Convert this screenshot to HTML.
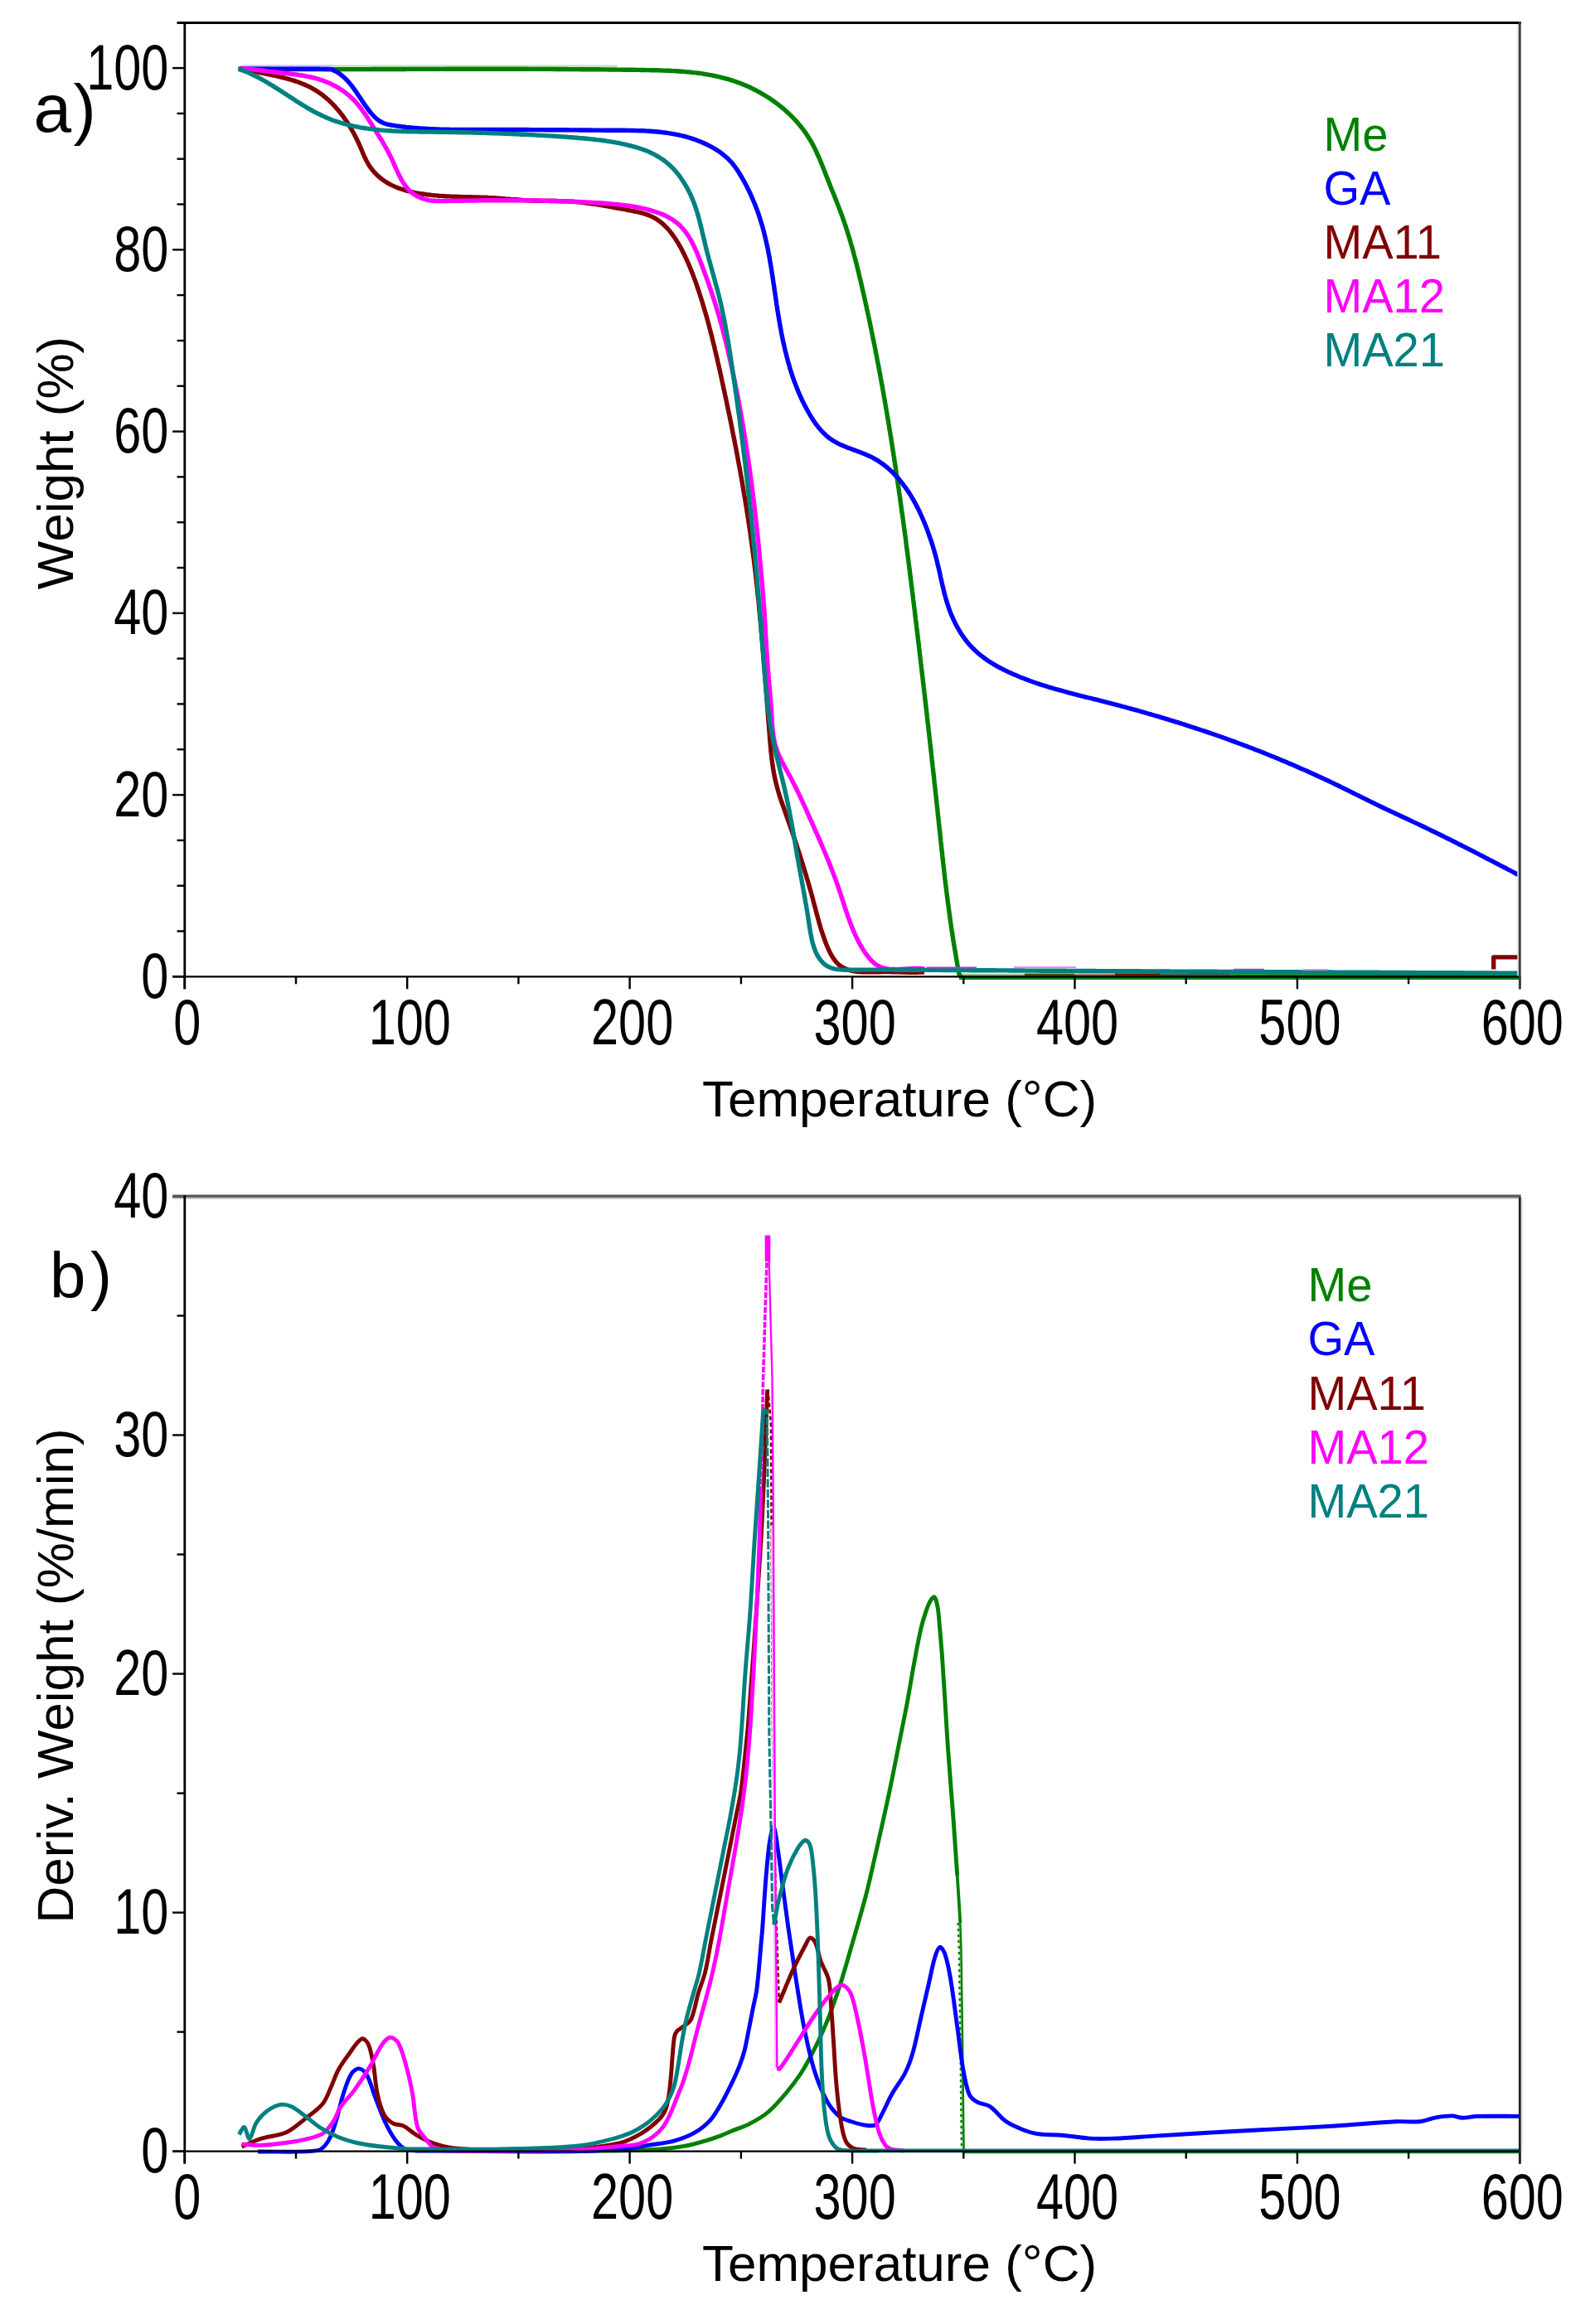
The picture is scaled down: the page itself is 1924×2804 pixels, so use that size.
<!DOCTYPE html>
<html lang="en"><head><meta charset="utf-8"><title>TGA / DTG curves</title>
<style>html,body{margin:0;padding:0;background:#fff}body{width:1924px;height:2804px;overflow:hidden}svg{display:block}text{font-family:"Liberation Sans",Arial,Helvetica,sans-serif;fill:#000}.c{fill:none;stroke-linejoin:round;stroke-linecap:butt}</style></head><body>
<svg width="1924" height="2804" viewBox="0 0 1924 2804">
<rect width="1924" height="2804" fill="#fff"/>
<!-- panel a -->
<clipPath id="clipa"><rect x="222.8" y="27.6" width="1611.0" height="1156.7"/></clipPath>
<g clip-path="url(#clipa)">
<path class="c" d="M292.0,79.6 L402.0,79.6" stroke="#c4c4ff" stroke-width="2.6" />
<path class="c" d="M402.0,79.6 L745.0,79.6" stroke="#c4e4c4" stroke-width="2.6" />
<path class="c" d="M1157.0,1178.6 L1834.0,1178.6" stroke="#008000" stroke-width="6.6" />
<path class="c" d="M287.6,83.4 L290.6,83.4 L293.6,83.4 L296.6,83.4 L299.6,83.5 L302.6,83.5 L305.6,83.5 L308.6,83.5 L311.6,83.5 L314.6,83.5 L317.6,83.5 L320.7,83.5 L323.7,83.5 L326.7,83.6 L329.7,83.6 L332.7,83.6 L335.7,83.6 L338.7,83.6 L341.7,83.6 L344.7,83.6 L347.7,83.6 L350.7,83.6 L353.7,83.6 L356.7,83.6 L359.7,83.6 L362.7,83.6 L365.7,83.6 L368.7,83.6 L371.7,83.6 L374.7,83.6 L377.7,83.6 L380.7,83.6 L383.7,83.6 L386.7,83.6 L389.7,83.6 L392.7,83.6 L395.7,83.6 L398.7,83.6 L401.7,83.6 L404.7,83.6 L407.7,83.6 L410.7,83.6 L413.7,83.6 L416.7,83.6 L419.7,83.6 L422.7,83.6 L425.7,83.6 L428.7,83.6 L431.7,83.6 L434.7,83.6 L437.7,83.6 L440.7,83.6 L443.7,83.6 L446.7,83.6 L449.7,83.5 L452.8,83.5 L455.8,83.5 L458.8,83.5 L461.8,83.5 L464.8,83.5 L467.8,83.5 L470.8,83.5 L473.8,83.5 L476.8,83.5 L479.8,83.5 L482.8,83.5 L485.8,83.5 L488.8,83.5 L491.8,83.4 L494.8,83.4 L497.8,83.4 L500.8,83.4 L503.8,83.4 L506.8,83.4 L509.8,83.4 L512.8,83.4 L515.8,83.4 L518.8,83.4 L521.8,83.4 L524.8,83.4 L527.8,83.4 L530.8,83.4 L533.8,83.4 L536.8,83.4 L539.8,83.3 L542.8,83.3 L545.8,83.3 L548.8,83.3 L551.8,83.3 L554.8,83.3 L557.8,83.3 L560.8,83.3 L563.8,83.3 L566.8,83.3 L569.8,83.3 L572.8,83.3 L575.8,83.3 L578.8,83.3 L581.8,83.3 L584.8,83.3 L587.8,83.3 L590.8,83.3 L593.8,83.3 L596.8,83.3 L599.8,83.3 L602.8,83.3 L605.8,83.3 L608.8,83.3 L611.8,83.3 L614.8,83.3 L617.8,83.3 L620.8,83.3 L623.8,83.3 L626.8,83.3 L629.8,83.3 L632.8,83.3 L635.8,83.3 L638.8,83.4 L641.8,83.4 L644.8,83.4 L647.8,83.4 L650.8,83.4 L653.8,83.4 L656.8,83.4 L659.9,83.4 L662.9,83.4 L665.9,83.4 L668.9,83.5 L671.9,83.5 L674.9,83.5 L677.9,83.5 L680.9,83.5 L683.9,83.5 L686.9,83.6 L689.9,83.6 L692.9,83.6 L695.9,83.6 L698.9,83.6 L701.9,83.7 L704.9,83.7 L707.9,83.7 L710.9,83.7 L713.9,83.8 L716.9,83.8 L719.9,83.8 L723.0,83.8 L726.0,83.9 L729.0,83.9 L732.0,83.9 L735.0,84.0 L738.0,84.0 L741.0,84.0 L744.0,84.1 L747.0,84.1 L750.0,84.1 L753.0,84.2 L756.0,84.2 L759.0,84.2 L762.0,84.3 L765.1,84.3 L768.1,84.4 L771.1,84.4 L774.1,84.5 L777.1,84.5 L780.1,84.6 L783.1,84.6 L786.1,84.7 L789.1,84.7 L792.1,84.8 L795.1,84.9 L798.1,85.0 L801.1,85.1 L804.1,85.2 L807.1,85.3 L810.1,85.5 L813.1,85.6 L816.1,85.8 L819.1,86.0 L822.0,86.2 L825.0,86.4 L828.0,86.7 L831.0,86.9 L833.9,87.2 L836.9,87.6 L839.8,87.9 L842.8,88.3 L845.7,88.7 L848.6,89.1 L851.5,89.6 L854.5,90.1 L857.4,90.6 L860.3,91.2 L863.2,91.8 L866.0,92.4 L868.9,93.1 L871.8,93.8 L874.6,94.6 L877.5,95.4 L880.3,96.2 L883.2,97.1 L886.0,98.0 L888.8,99.0 L891.6,100.0 L894.4,101.0 L897.2,102.2 L899.9,103.3 L902.7,104.5 L905.4,105.8 L908.1,107.1 L910.8,108.5 L913.5,109.9 L916.2,111.3 L918.8,112.8 L921.5,114.4 L924.1,116.0 L926.6,117.6 L929.2,119.3 L931.7,121.0 L934.2,122.8 L936.7,124.6 L939.1,126.4 L941.5,128.3 L943.8,130.2 L946.2,132.2 L948.5,134.2 L950.7,136.3 L952.9,138.4 L955.1,140.5 L957.2,142.7 L959.3,144.9 L961.3,147.1 L963.3,149.4 L965.2,151.7 L967.1,154.0 L968.9,156.4 L970.7,158.8 L972.4,161.3 L974.0,163.7 L975.6,166.2 L977.2,168.8 L978.7,171.3 L980.1,173.9 L981.5,176.6 L982.9,179.2 L984.2,181.9 L985.4,184.6 L986.6,187.3 L987.8,190.0 L989.0,192.7 L990.2,195.5 L991.3,198.2 L992.4,201.0 L993.5,203.8 L994.6,206.6 L995.7,209.4 L996.8,212.2 L997.9,215.0 L999.0,217.8 L1000.1,220.6 L1001.2,223.4 L1002.3,226.2 L1003.4,229.0 L1004.6,231.8 L1005.7,234.5 L1006.8,237.3 L1007.9,240.1 L1009.0,242.9 L1010.1,245.7 L1011.2,248.5 L1012.3,251.4 L1013.4,254.2 L1014.4,257.0 L1015.5,259.8 L1016.5,262.6 L1017.5,265.5 L1018.5,268.3 L1019.4,271.2 L1020.4,274.0 L1021.3,276.9 L1022.2,279.7 L1023.1,282.6 L1024.0,285.5 L1024.9,288.3 L1025.7,291.2 L1026.5,294.1 L1027.4,297.0 L1028.2,299.9 L1029.0,302.8 L1029.8,305.7 L1030.5,308.6 L1031.3,311.5 L1032.1,314.4 L1032.8,317.3 L1033.6,320.2 L1034.3,323.1 L1035.0,326.0 L1035.7,328.9 L1036.4,331.9 L1037.1,334.8 L1037.8,337.7 L1038.5,340.6 L1039.2,343.5 L1039.8,346.5 L1040.5,349.4 L1041.2,352.3 L1041.8,355.2 L1042.5,358.2 L1043.2,361.1 L1043.8,364.0 L1044.5,367.0 L1045.1,369.9 L1045.7,372.8 L1046.4,375.8 L1047.0,378.7 L1047.6,381.6 L1048.3,384.6 L1048.9,387.5 L1049.5,390.4 L1050.1,393.4 L1050.7,396.3 L1051.3,399.3 L1051.9,402.2 L1052.5,405.1 L1053.1,408.1 L1053.7,411.0 L1054.3,414.0 L1054.9,416.9 L1055.5,419.8 L1056.1,422.8 L1056.6,425.7 L1057.2,428.7 L1057.8,431.6 L1058.3,434.6 L1058.9,437.5 L1059.5,440.5 L1060.0,443.4 L1060.6,446.4 L1061.1,449.3 L1061.7,452.3 L1062.2,455.2 L1062.8,458.2 L1063.3,461.1 L1063.8,464.1 L1064.4,467.0 L1064.9,470.0 L1065.4,472.9 L1065.9,475.9 L1066.4,478.8 L1067.0,481.8 L1067.5,484.8 L1068.0,487.7 L1068.5,490.7 L1069.0,493.6 L1069.5,496.6 L1070.0,499.5 L1070.5,502.5 L1071.0,505.5 L1071.5,508.4 L1072.0,511.4 L1072.5,514.3 L1072.9,517.3 L1073.4,520.3 L1073.9,523.2 L1074.4,526.2 L1074.9,529.2 L1075.3,532.1 L1075.8,535.1 L1076.3,538.1 L1076.7,541.0 L1077.2,544.0 L1077.7,547.0 L1078.1,549.9 L1078.6,552.9 L1079.0,555.9 L1079.5,558.8 L1079.9,561.8 L1080.4,564.8 L1080.8,567.7 L1081.2,570.7 L1081.7,573.7 L1082.1,576.6 L1082.6,579.6 L1083.0,582.6 L1083.4,585.6 L1083.9,588.5 L1084.3,591.5 L1084.7,594.5 L1085.1,597.4 L1085.6,600.4 L1086.0,603.4 L1086.4,606.4 L1086.8,609.3 L1087.2,612.3 L1087.6,615.3 L1088.0,618.3 L1088.5,621.2 L1088.9,624.2 L1089.3,627.2 L1089.7,630.2 L1090.1,633.1 L1090.5,636.1 L1090.9,639.1 L1091.3,642.1 L1091.7,645.0 L1092.1,648.0 L1092.5,651.0 L1092.9,654.0 L1093.2,656.9 L1093.6,659.9 L1094.0,662.9 L1094.4,665.9 L1094.8,668.9 L1095.2,671.8 L1095.6,674.8 L1095.9,677.8 L1096.3,680.8 L1096.7,683.7 L1097.1,686.7 L1097.5,689.7 L1097.8,692.7 L1098.2,695.7 L1098.6,698.6 L1099.0,701.6 L1099.3,704.6 L1099.7,707.6 L1100.1,710.6 L1100.4,713.5 L1100.8,716.5 L1101.2,719.5 L1101.5,722.5 L1101.9,725.5 L1102.3,728.5 L1102.6,731.4 L1103.0,734.4 L1103.4,737.4 L1103.7,740.4 L1104.1,743.4 L1104.4,746.3 L1104.8,749.3 L1105.2,752.3 L1105.5,755.3 L1105.9,758.3 L1106.2,761.2 L1106.6,764.2 L1106.9,767.2 L1107.3,770.2 L1107.7,773.2 L1108.0,776.2 L1108.4,779.1 L1108.7,782.1 L1109.1,785.1 L1109.4,788.1 L1109.8,791.1 L1110.1,794.0 L1110.5,797.0 L1110.8,800.0 L1111.2,803.0 L1111.5,806.0 L1111.9,808.9 L1112.2,811.9 L1112.6,814.9 L1112.9,817.9 L1113.3,820.9 L1113.6,823.9 L1114.0,826.8 L1114.3,829.8 L1114.7,832.8 L1115.0,835.8 L1115.4,838.8 L1115.7,841.7 L1116.0,844.7 L1116.4,847.7 L1116.7,850.7 L1117.1,853.7 L1117.4,856.7 L1117.8,859.6 L1118.1,862.6 L1118.4,865.6 L1118.8,868.6 L1119.1,871.6 L1119.5,874.5 L1119.8,877.5 L1120.1,880.5 L1120.5,883.5 L1120.8,886.5 L1121.1,889.5 L1121.5,892.4 L1121.8,895.4 L1122.1,898.4 L1122.5,901.4 L1122.8,904.4 L1123.2,907.4 L1123.5,910.3 L1123.8,913.3 L1124.1,916.3 L1124.5,919.3 L1124.8,922.3 L1125.1,925.3 L1125.5,928.2 L1125.8,931.2 L1126.1,934.2 L1126.5,937.2 L1126.8,940.2 L1127.1,943.2 L1127.4,946.1 L1127.8,949.1 L1128.1,952.1 L1128.4,955.1 L1128.7,958.1 L1129.1,961.1 L1129.4,964.0 L1129.7,967.0 L1130.0,970.0 L1130.4,973.0 L1130.7,976.0 L1131.0,979.0 L1131.3,982.0 L1131.6,984.9 L1132.0,987.9 L1132.3,990.9 L1132.6,993.9 L1132.9,996.9 L1133.2,999.9 L1133.6,1002.9 L1133.9,1005.8 L1134.2,1008.8 L1134.5,1011.8 L1134.8,1014.8 L1135.2,1017.8 L1135.5,1020.8 L1135.8,1023.8 L1136.1,1026.7 L1136.5,1029.7 L1136.8,1032.7 L1137.1,1035.7 L1137.5,1038.7 L1137.8,1041.7 L1138.1,1044.7 L1138.5,1047.6 L1138.8,1050.6 L1139.1,1053.6 L1139.5,1056.6 L1139.8,1059.6 L1140.2,1062.6 L1140.5,1065.5 L1140.9,1068.5 L1141.3,1071.5 L1141.6,1074.5 L1142.0,1077.5 L1142.4,1080.4 L1142.7,1083.4 L1143.1,1086.4 L1143.5,1089.4 L1143.9,1092.3 L1144.3,1095.3 L1144.7,1098.3 L1145.1,1101.3 L1145.5,1104.2 L1145.9,1107.2 L1146.3,1110.2 L1146.7,1113.2 L1147.2,1116.1 L1147.6,1119.1 L1148.0,1122.1 L1148.5,1125.0 L1148.9,1128.0 L1149.4,1131.0 L1149.8,1133.9 L1150.3,1136.9 L1150.8,1139.9 L1151.3,1142.8 L1151.8,1145.8 L1152.3,1148.8 L1152.8,1151.7 L1153.3,1154.7 L1153.8,1157.6 L1154.3,1160.6 L1154.8,1163.5 L1155.4,1166.5 L1155.9,1169.4 L1156.5,1172.4 L1157.0,1175.4 L1157.6,1178.3" stroke="#008000" stroke-width="5.4" />
<path class="c" d="M287.6,83.1 L290.6,83.1 L293.6,83.1 L296.6,83.1 L299.7,83.1 L302.7,83.1 L305.7,83.1 L308.7,83.1 L311.7,83.1 L314.7,83.1 L317.8,83.1 L320.8,83.1 L323.8,83.1 L326.8,83.1 L329.8,83.1 L332.8,83.1 L335.9,83.1 L338.9,83.1 L341.9,83.1 L344.9,83.1 L347.9,83.1 L350.9,83.1 L354.0,83.1 L357.0,83.1 L360.0,83.1 L363.0,83.1 L366.0,83.1 L369.0,83.1 L372.1,83.2 L375.1,83.2 L378.1,83.2 L381.1,83.3 L384.1,83.3 L387.1,83.4 L390.2,83.4 L393.2,83.5 L396.2,83.5 L399.2,83.6 L402.0,84.7 L404.7,86.0 L407.2,87.4 L409.7,89.0 L412.0,90.8 L414.2,92.6 L416.3,94.6 L418.4,96.7 L420.4,98.8 L422.3,101.1 L424.2,103.4 L426.0,105.8 L427.8,108.3 L429.6,110.8 L431.3,113.4 L433.0,115.9 L434.8,118.5 L436.5,121.2 L438.3,123.8 L440.0,126.4 L441.9,129.0 L443.7,131.5 L445.6,134.0 L447.6,136.5 L449.7,138.8 L451.8,141.0 L454.0,143.1 L456.3,144.9 L458.7,146.5 L461.3,147.9 L463.9,149.0 L466.7,149.8 L469.5,150.4 L472.4,151.0 L475.3,151.4 L478.2,151.9 L481.2,152.3 L484.1,152.7 L487.0,153.0 L490.0,153.4 L492.9,153.7 L495.9,154.0 L498.8,154.3 L501.8,154.5 L504.7,154.8 L507.7,155.0 L510.7,155.2 L513.6,155.3 L516.6,155.5 L519.6,155.7 L522.6,155.8 L525.6,155.9 L528.6,156.0 L531.6,156.1 L534.6,156.2 L537.5,156.2 L540.5,156.3 L543.6,156.4 L546.6,156.4 L549.6,156.4 L552.6,156.4 L555.6,156.5 L558.6,156.5 L561.6,156.5 L564.6,156.5 L567.6,156.5 L570.6,156.5 L573.6,156.5 L576.7,156.5 L579.7,156.5 L582.7,156.5 L585.7,156.5 L588.7,156.4 L591.7,156.4 L594.7,156.4 L597.7,156.4 L600.7,156.4 L603.7,156.4 L606.7,156.4 L609.7,156.5 L612.7,156.5 L615.7,156.5 L618.7,156.5 L621.8,156.5 L624.8,156.5 L627.8,156.5 L630.8,156.5 L633.8,156.5 L636.8,156.5 L639.8,156.6 L642.8,156.6 L645.8,156.6 L648.8,156.6 L651.8,156.6 L654.8,156.6 L657.8,156.7 L660.8,156.7 L663.8,156.7 L666.7,156.7 L669.7,156.7 L672.7,156.8 L675.7,156.8 L678.7,156.8 L681.7,156.8 L684.7,156.8 L687.7,156.9 L690.7,156.9 L693.7,156.9 L696.7,156.9 L699.7,157.0 L702.7,157.0 L705.7,157.0 L708.8,157.0 L711.8,157.0 L714.8,157.1 L717.8,157.1 L720.8,157.1 L723.8,157.1 L726.8,157.1 L729.8,157.2 L732.8,157.2 L735.8,157.2 L738.8,157.2 L741.8,157.2 L744.8,157.3 L747.8,157.3 L750.8,157.3 L753.8,157.3 L756.9,157.4 L759.9,157.4 L762.9,157.5 L765.9,157.5 L768.9,157.6 L771.9,157.7 L774.9,157.8 L777.9,157.9 L780.9,158.1 L783.9,158.3 L786.8,158.5 L789.8,158.7 L792.8,159.0 L795.8,159.3 L798.7,159.6 L801.7,160.0 L804.7,160.4 L807.6,160.8 L810.5,161.3 L813.5,161.8 L816.4,162.4 L819.3,163.0 L822.2,163.7 L825.1,164.4 L828.0,165.2 L830.9,166.0 L833.8,166.9 L836.7,167.8 L839.5,168.8 L842.3,169.9 L845.2,171.0 L848.0,172.2 L850.8,173.5 L853.6,174.8 L856.4,176.3 L859.1,177.7 L861.8,179.3 L864.4,180.9 L867.0,182.6 L869.5,184.3 L871.9,186.2 L874.2,188.1 L876.5,190.0 L878.7,192.0 L880.7,194.1 L882.7,196.3 L884.5,198.5 L886.3,200.8 L888.0,203.2 L889.6,205.6 L891.2,208.0 L892.7,210.5 L894.2,213.0 L895.7,215.5 L897.1,218.1 L898.6,220.7 L900.0,223.4 L901.3,226.0 L902.7,228.7 L904.0,231.5 L905.3,234.2 L906.5,236.9 L907.7,239.7 L908.9,242.5 L910.1,245.3 L911.2,248.1 L912.3,250.9 L913.4,253.8 L914.4,256.6 L915.4,259.5 L916.3,262.3 L917.2,265.2 L918.1,268.1 L919.0,270.9 L919.8,273.8 L920.6,276.7 L921.4,279.6 L922.1,282.5 L922.8,285.4 L923.5,288.3 L924.2,291.2 L924.8,294.1 L925.5,297.0 L926.1,299.9 L926.7,302.9 L927.2,305.8 L927.8,308.7 L928.3,311.7 L928.8,314.6 L929.3,317.5 L929.8,320.5 L930.3,323.4 L930.8,326.4 L931.2,329.3 L931.7,332.3 L932.1,335.3 L932.6,338.2 L933.0,341.2 L933.5,344.1 L933.9,347.1 L934.3,350.1 L934.8,353.1 L935.2,356.0 L935.6,359.0 L936.1,362.0 L936.5,365.0 L936.9,367.9 L937.4,370.9 L937.8,373.9 L938.3,376.9 L938.8,379.9 L939.3,382.9 L939.8,385.8 L940.3,388.8 L940.8,391.8 L941.3,394.8 L941.9,397.8 L942.4,400.7 L943.0,403.7 L943.6,406.7 L944.2,409.6 L944.8,412.6 L945.5,415.5 L946.2,418.5 L946.8,421.4 L947.5,424.4 L948.3,427.3 L949.0,430.2 L949.8,433.1 L950.5,436.0 L951.4,438.9 L952.2,441.8 L953.0,444.7 L953.9,447.6 L954.8,450.4 L955.8,453.3 L956.7,456.1 L957.7,458.9 L958.8,461.7 L959.8,464.5 L960.9,467.3 L962.0,470.1 L963.1,472.9 L964.3,475.6 L965.5,478.3 L966.8,481.1 L968.0,483.8 L969.4,486.4 L970.7,489.1 L972.1,491.7 L973.5,494.4 L975.0,497.0 L976.5,499.6 L978.0,502.2 L979.6,504.7 L981.2,507.2 L982.9,509.7 L984.6,512.1 L986.4,514.5 L988.3,516.8 L990.2,519.0 L992.2,521.2 L994.3,523.3 L996.4,525.3 L998.6,527.2 L1000.9,529.0 L1003.3,530.6 L1005.8,532.2 L1008.4,533.7 L1011.0,535.1 L1013.7,536.4 L1016.5,537.6 L1019.3,538.8 L1022.1,539.9 L1025.0,541.0 L1027.9,542.1 L1030.8,543.1 L1033.7,544.2 L1036.6,545.3 L1039.5,546.4 L1042.4,547.5 L1045.2,548.7 L1048.0,549.9 L1050.7,551.2 L1053.4,552.6 L1056.1,554.1 L1058.6,555.6 L1061.1,557.3 L1063.6,559.0 L1066.0,560.7 L1068.4,562.6 L1070.7,564.4 L1072.9,566.4 L1075.1,568.4 L1077.2,570.5 L1079.3,572.6 L1081.4,574.8 L1083.4,577.0 L1085.3,579.3 L1087.2,581.6 L1089.0,583.9 L1090.8,586.3 L1092.6,588.7 L1094.3,591.2 L1095.9,593.6 L1097.6,596.2 L1099.1,598.7 L1100.7,601.3 L1102.2,603.9 L1103.6,606.5 L1105.0,609.1 L1106.4,611.8 L1107.8,614.5 L1109.1,617.2 L1110.3,619.9 L1111.6,622.6 L1112.8,625.4 L1114.0,628.2 L1115.2,630.9 L1116.3,633.7 L1117.4,636.5 L1118.5,639.3 L1119.5,642.2 L1120.5,645.0 L1121.5,647.8 L1122.5,650.7 L1123.5,653.5 L1124.4,656.4 L1125.3,659.3 L1126.1,662.2 L1127.0,665.0 L1127.8,667.9 L1128.6,670.8 L1129.4,673.7 L1130.1,676.6 L1130.8,679.6 L1131.5,682.5 L1132.2,685.4 L1132.9,688.3 L1133.6,691.2 L1134.2,694.2 L1134.8,697.1 L1135.5,700.0 L1136.1,702.9 L1136.8,705.8 L1137.5,708.7 L1138.2,711.7 L1138.9,714.6 L1139.6,717.5 L1140.4,720.3 L1141.2,723.2 L1142.1,726.1 L1143.0,729.0 L1143.9,731.8 L1144.9,734.7 L1145.9,737.5 L1147.0,740.3 L1148.2,743.1 L1149.4,745.9 L1150.6,748.6 L1152.0,751.3 L1153.3,754.0 L1154.8,756.7 L1156.3,759.3 L1157.8,761.9 L1159.4,764.5 L1161.1,767.0 L1162.8,769.4 L1164.6,771.8 L1166.4,774.2 L1168.3,776.5 L1170.3,778.7 L1172.3,780.9 L1174.4,783.0 L1176.5,785.1 L1178.7,787.1 L1181.0,789.0 L1183.3,790.9 L1185.6,792.7 L1188.0,794.5 L1190.5,796.2 L1193.0,797.9 L1195.5,799.5 L1198.0,801.1 L1200.6,802.6 L1203.2,804.1 L1205.9,805.5 L1208.6,806.9 L1211.3,808.3 L1214.0,809.6 L1216.7,810.9 L1219.5,812.1 L1222.2,813.4 L1225.0,814.6 L1227.8,815.7 L1230.5,816.9 L1233.3,818.0 L1236.1,819.1 L1239.0,820.1 L1241.8,821.2 L1244.6,822.2 L1247.4,823.2 L1250.3,824.2 L1253.1,825.1 L1255.9,826.1 L1258.8,827.0 L1261.7,827.9 L1264.5,828.8 L1267.4,829.6 L1270.3,830.5 L1273.1,831.3 L1276.0,832.1 L1278.9,832.9 L1281.8,833.7 L1284.7,834.5 L1287.6,835.3 L1290.5,836.1 L1293.4,836.8 L1296.3,837.6 L1299.2,838.3 L1302.1,839.1 L1305.0,839.8 L1307.9,840.6 L1310.8,841.3 L1313.7,842.0 L1316.6,842.7 L1319.5,843.5 L1322.5,844.2 L1325.4,844.9 L1328.3,845.7 L1331.2,846.4 L1334.1,847.1 L1337.0,847.9 L1339.9,848.6 L1342.8,849.4 L1345.7,850.1 L1348.6,850.9 L1351.5,851.7 L1354.4,852.5 L1357.3,853.2 L1360.2,854.0 L1363.1,854.8 L1366.0,855.6 L1368.9,856.4 L1371.8,857.2 L1374.7,858.0 L1377.6,858.8 L1380.5,859.7 L1383.4,860.5 L1386.2,861.3 L1389.1,862.2 L1392.0,863.0 L1394.9,863.9 L1397.8,864.7 L1400.7,865.6 L1403.5,866.4 L1406.4,867.3 L1409.3,868.2 L1412.2,869.1 L1415.0,869.9 L1417.9,870.8 L1420.8,871.7 L1423.6,872.6 L1426.5,873.5 L1429.3,874.4 L1432.2,875.4 L1435.1,876.3 L1437.9,877.2 L1440.8,878.1 L1443.6,879.1 L1446.5,880.0 L1449.3,881.0 L1452.2,881.9 L1455.0,882.9 L1457.9,883.9 L1460.7,884.8 L1463.5,885.8 L1466.4,886.8 L1469.2,887.8 L1472.1,888.8 L1474.9,889.8 L1477.7,890.8 L1480.5,891.8 L1483.4,892.8 L1486.2,893.9 L1489.0,894.9 L1491.8,895.9 L1494.6,897.0 L1497.5,898.0 L1500.3,899.1 L1503.1,900.1 L1505.9,901.2 L1508.7,902.3 L1511.5,903.3 L1514.3,904.4 L1517.1,905.5 L1519.9,906.6 L1522.7,907.7 L1525.5,908.8 L1528.3,909.9 L1531.0,911.1 L1533.8,912.2 L1536.6,913.3 L1539.4,914.5 L1542.2,915.6 L1544.9,916.7 L1547.7,917.9 L1550.5,919.1 L1553.2,920.2 L1556.0,921.4 L1558.8,922.6 L1561.5,923.8 L1564.3,925.0 L1567.0,926.2 L1569.8,927.4 L1572.5,928.6 L1575.3,929.8 L1578.0,931.0 L1580.7,932.2 L1583.5,933.5 L1586.2,934.7 L1588.9,936.0 L1591.7,937.2 L1594.4,938.5 L1597.1,939.8 L1599.8,941.0 L1602.5,942.3 L1605.3,943.6 L1608.0,944.9 L1610.7,946.2 L1613.4,947.5 L1616.1,948.8 L1618.8,950.1 L1621.5,951.5 L1624.2,952.8 L1626.9,954.1 L1629.6,955.4 L1632.2,956.8 L1634.9,958.1 L1637.6,959.4 L1640.3,960.8 L1643.0,962.1 L1645.7,963.4 L1648.4,964.8 L1651.1,966.1 L1653.8,967.4 L1656.5,968.7 L1659.2,970.1 L1661.9,971.4 L1664.6,972.7 L1667.3,974.0 L1670.0,975.3 L1672.7,976.6 L1675.4,977.8 L1678.1,979.1 L1680.9,980.4 L1683.6,981.7 L1686.3,982.9 L1689.0,984.2 L1691.7,985.5 L1694.5,986.8 L1697.2,988.0 L1699.9,989.3 L1702.6,990.6 L1705.3,991.9 L1708.0,993.1 L1710.8,994.4 L1713.5,995.7 L1716.2,997.0 L1718.9,998.3 L1721.6,999.6 L1724.3,1000.9 L1727.0,1002.2 L1729.7,1003.5 L1732.4,1004.8 L1735.1,1006.1 L1737.8,1007.5 L1740.5,1008.8 L1743.2,1010.1 L1745.9,1011.5 L1748.6,1012.8 L1751.3,1014.1 L1753.9,1015.5 L1756.6,1016.8 L1759.3,1018.2 L1762.0,1019.5 L1764.7,1020.9 L1767.4,1022.2 L1770.0,1023.6 L1772.7,1025.0 L1775.4,1026.3 L1778.1,1027.7 L1780.7,1029.1 L1783.4,1030.4 L1786.1,1031.8 L1788.7,1033.2 L1791.4,1034.6 L1794.1,1036.0 L1796.7,1037.3 L1799.4,1038.7 L1802.1,1040.1 L1804.7,1041.5 L1807.4,1042.9 L1810.1,1044.3 L1812.7,1045.7 L1815.4,1047.0 L1818.0,1048.4 L1820.7,1049.8 L1823.4,1051.2 L1826.0,1052.6 L1828.7,1054.0 L1831.3,1055.4 L1834.0,1056.8" stroke="#0000ff" stroke-width="5.4" />
<path class="c" d="M1801.7,1169.5 L1801.7,1154.9 L1834.0,1154.9" stroke="#800000" stroke-width="5.4" stroke-linejoin="miter"/>
<path class="c" d="M290.0,82.2 L292.8,82.9 L295.6,83.6 L298.4,84.3 L301.3,85.0 L304.2,85.6 L307.1,86.3 L310.1,86.9 L313.0,87.5 L316.0,88.1 L319.0,88.7 L322.0,89.3 L325.0,89.9 L328.0,90.6 L331.0,91.2 L334.0,91.9 L337.0,92.6 L340.0,93.3 L343.0,94.0 L345.9,94.8 L348.9,95.6 L351.8,96.5 L354.7,97.4 L357.6,98.3 L360.4,99.3 L363.2,100.4 L366.0,101.5 L368.7,102.7 L371.4,103.9 L374.1,105.2 L376.7,106.6 L379.3,108.1 L381.8,109.6 L384.2,111.2 L386.7,112.9 L389.0,114.7 L391.3,116.5 L393.6,118.4 L395.8,120.3 L398.0,122.3 L400.1,124.4 L402.2,126.5 L404.3,128.7 L406.2,130.9 L408.2,133.2 L410.1,135.5 L411.9,137.9 L413.8,140.3 L415.5,142.7 L417.2,145.2 L418.9,147.8 L420.6,150.3 L422.1,152.9 L423.7,155.5 L425.2,158.2 L426.7,160.8 L428.1,163.5 L429.5,166.2 L430.8,169.0 L432.1,171.7 L433.4,174.5 L434.6,177.2 L435.8,180.0 L436.9,182.8 L438.1,185.6 L439.3,188.3 L440.6,191.0 L441.9,193.7 L443.3,196.3 L444.7,198.8 L446.4,201.3 L448.1,203.7 L449.9,206.0 L451.9,208.2 L454.0,210.3 L456.1,212.4 L458.4,214.3 L460.7,216.2 L463.2,217.9 L465.6,219.6 L468.2,221.1 L470.8,222.6 L473.5,223.9 L476.2,225.1 L479.0,226.3 L481.9,227.4 L484.7,228.3 L487.6,229.2 L490.5,230.1 L493.5,230.8 L496.4,231.5 L499.4,232.2 L502.4,232.8 L505.4,233.3 L508.4,233.8 L511.4,234.2 L514.4,234.7 L517.4,235.0 L520.4,235.4 L523.3,235.7 L526.3,235.9 L529.3,236.2 L532.3,236.4 L535.3,236.6 L538.3,236.8 L541.3,236.9 L544.3,237.1 L547.3,237.2 L550.3,237.3 L553.3,237.4 L556.3,237.5 L559.3,237.6 L562.3,237.6 L565.3,237.7 L568.3,237.8 L571.3,237.9 L574.3,237.9 L577.2,238.0 L580.2,238.1 L583.2,238.2 L586.2,238.3 L589.2,238.5 L592.2,238.6 L595.2,238.8 L598.2,239.0 L601.2,239.2 L604.2,239.4 L607.2,239.6 L610.2,239.9 L613.2,240.1 L616.2,240.4 L619.1,240.6 L622.1,240.8 L625.1,241.0 L628.1,241.3 L631.1,241.5 L634.1,241.6 L637.1,241.8 L640.1,242.0 L643.2,242.1 L646.2,242.2 L649.2,242.2 L652.2,242.3 L655.2,242.4 L658.2,242.4 L661.2,242.4 L664.2,242.5 L667.2,242.5 L670.3,242.5 L673.3,242.6 L676.3,242.7 L679.3,242.8 L682.2,242.9 L685.2,243.0 L688.2,243.2 L691.2,243.3 L694.2,243.6 L697.1,243.8 L700.1,244.1 L703.0,244.4 L706.0,244.8 L709.0,245.2 L711.9,245.6 L714.9,246.0 L717.8,246.4 L720.8,246.9 L723.7,247.4 L726.7,247.8 L729.6,248.4 L732.6,248.9 L735.6,249.4 L738.5,249.9 L741.5,250.5 L744.5,251.0 L747.5,251.6 L750.5,252.2 L753.5,252.7 L756.6,253.3 L759.6,253.8 L762.6,254.4 L765.7,255.0 L768.7,255.7 L771.6,256.4 L774.6,257.1 L777.5,258.0 L780.3,258.9 L783.1,259.9 L785.8,261.1 L788.4,262.4 L790.9,263.8 L793.4,265.4 L795.7,267.1 L798.0,268.9 L800.2,270.8 L802.3,272.8 L804.4,274.9 L806.3,277.0 L808.3,279.3 L810.1,281.6 L811.9,284.1 L813.6,286.5 L815.3,289.0 L816.9,291.6 L818.5,294.2 L820.0,296.9 L821.5,299.5 L822.9,302.2 L824.3,304.9 L825.6,307.6 L826.9,310.4 L828.2,313.1 L829.5,315.9 L830.7,318.6 L831.8,321.4 L833.0,324.2 L834.1,327.0 L835.2,329.8 L836.3,332.6 L837.3,335.4 L838.4,338.2 L839.4,341.1 L840.4,343.9 L841.3,346.7 L842.3,349.6 L843.3,352.4 L844.2,355.3 L845.1,358.1 L846.0,361.0 L846.9,363.8 L847.8,366.7 L848.6,369.6 L849.5,372.5 L850.3,375.3 L851.2,378.2 L852.0,381.1 L852.8,384.0 L853.6,386.9 L854.4,389.8 L855.2,392.7 L855.9,395.6 L856.7,398.5 L857.4,401.4 L858.2,404.3 L858.9,407.2 L859.6,410.1 L860.3,413.0 L861.1,415.9 L861.8,418.8 L862.4,421.8 L863.1,424.7 L863.8,427.6 L864.5,430.5 L865.2,433.4 L865.8,436.4 L866.5,439.3 L867.2,442.2 L867.8,445.2 L868.5,448.1 L869.1,451.0 L869.8,454.0 L870.4,456.9 L871.0,459.8 L871.7,462.8 L872.3,465.7 L872.9,468.6 L873.6,471.6 L874.2,474.5 L874.8,477.4 L875.5,480.4 L876.1,483.3 L876.7,486.3 L877.3,489.2 L877.9,492.1 L878.5,495.1 L879.2,498.0 L879.8,501.0 L880.4,503.9 L881.0,506.9 L881.6,509.8 L882.2,512.8 L882.8,515.7 L883.3,518.6 L883.9,521.6 L884.5,524.5 L885.1,527.5 L885.7,530.4 L886.3,533.4 L886.8,536.3 L887.4,539.3 L888.0,542.2 L888.5,545.2 L889.1,548.1 L889.6,551.1 L890.2,554.1 L890.7,557.0 L891.3,560.0 L891.8,562.9 L892.4,565.9 L892.9,568.8 L893.4,571.8 L894.0,574.7 L894.5,577.7 L895.0,580.7 L895.5,583.6 L896.0,586.6 L896.5,589.5 L897.0,592.5 L897.5,595.5 L898.0,598.4 L898.5,601.4 L899.0,604.4 L899.5,607.3 L900.0,610.3 L900.5,613.3 L900.9,616.2 L901.4,619.2 L901.9,622.2 L902.3,625.1 L902.8,628.1 L903.2,631.1 L903.7,634.0 L904.1,637.0 L904.5,640.0 L905.0,643.0 L905.4,645.9 L905.8,648.9 L906.2,651.9 L906.6,654.9 L907.0,657.8 L907.4,660.8 L907.8,663.8 L908.2,666.8 L908.6,669.7 L909.0,672.7 L909.4,675.7 L909.7,678.7 L910.1,681.7 L910.5,684.6 L910.8,687.6 L911.2,690.6 L911.5,693.6 L911.9,696.6 L912.2,699.6 L912.5,702.5 L912.9,705.5 L913.2,708.5 L913.5,711.5 L913.8,714.5 L914.1,717.5 L914.4,720.5 L914.8,723.4 L915.1,726.4 L915.4,729.4 L915.6,732.4 L915.9,735.4 L916.2,738.4 L916.5,741.4 L916.8,744.4 L917.1,747.4 L917.4,750.4 L917.6,753.3 L917.9,756.3 L918.2,759.3 L918.4,762.3 L918.7,765.3 L919.0,768.3 L919.2,771.3 L919.5,774.3 L919.7,777.3 L920.0,780.3 L920.2,783.3 L920.5,786.3 L920.7,789.3 L921.0,792.3 L921.2,795.3 L921.4,798.3 L921.7,801.3 L921.9,804.2 L922.2,807.2 L922.4,810.2 L922.6,813.2 L922.9,816.2 L923.1,819.2 L923.3,822.2 L923.6,825.2 L923.8,828.2 L924.0,831.2 L924.2,834.2 L924.5,837.2 L924.7,840.2 L924.9,843.2 L925.2,846.2 L925.4,849.2 L925.6,852.2 L925.9,855.2 L926.1,858.2 L926.3,861.2 L926.5,864.2 L926.8,867.2 L927.0,870.2 L927.2,873.1 L927.5,876.1 L927.7,879.1 L927.9,882.1 L928.2,885.1 L928.4,888.1 L928.6,891.1 L928.9,894.1 L929.1,897.1 L929.4,900.1 L929.7,903.1 L929.9,906.1 L930.2,909.0 L930.6,912.0 L930.9,915.0 L931.3,918.0 L931.6,920.9 L932.1,923.9 L932.5,926.8 L933.0,929.8 L933.5,932.7 L934.1,935.7 L934.6,938.6 L935.3,941.5 L936.0,944.4 L936.7,947.3 L937.5,950.2 L938.3,953.1 L939.1,956.0 L940.0,958.9 L940.9,961.7 L941.8,964.6 L942.8,967.5 L943.8,970.3 L944.8,973.2 L945.8,976.0 L946.8,978.9 L947.8,981.7 L948.8,984.6 L949.8,987.4 L950.8,990.2 L951.8,993.1 L952.8,995.9 L953.8,998.8 L954.8,1001.6 L955.8,1004.5 L956.8,1007.3 L957.7,1010.1 L958.7,1013.0 L959.6,1015.8 L960.6,1018.7 L961.5,1021.5 L962.4,1024.4 L963.4,1027.2 L964.3,1030.1 L965.2,1032.9 L966.1,1035.8 L967.0,1038.6 L967.9,1041.5 L968.8,1044.4 L969.7,1047.2 L970.5,1050.1 L971.4,1053.0 L972.3,1055.8 L973.1,1058.7 L974.0,1061.6 L974.8,1064.5 L975.6,1067.4 L976.5,1070.2 L977.3,1073.1 L978.1,1076.0 L978.9,1078.9 L979.7,1081.8 L980.5,1084.7 L981.2,1087.7 L982.0,1090.6 L982.8,1093.5 L983.6,1096.4 L984.3,1099.3 L985.1,1102.3 L985.9,1105.2 L986.7,1108.1 L987.5,1111.0 L988.3,1113.9 L989.2,1116.9 L990.0,1119.8 L990.9,1122.7 L991.9,1125.6 L992.8,1128.4 L993.8,1131.3 L994.9,1134.2 L995.9,1137.0 L997.0,1139.9 L998.2,1142.7 L999.4,1145.5 L1000.7,1148.2 L1002.1,1150.9 L1003.5,1153.5 L1005.1,1156.0 L1006.8,1158.4 L1008.5,1160.6 L1010.5,1162.6 L1012.5,1164.5 L1014.7,1166.1 L1017.1,1167.5 L1019.6,1168.7 L1022.2,1169.8 L1025.0,1170.6 L1027.8,1171.3 L1030.7,1171.8 L1033.6,1172.3 L1036.6,1172.6 L1039.6,1172.8 L1042.6,1172.9 L1045.6,1172.9 L1048.7,1172.9 L1051.8,1172.9 L1054.9,1172.8 L1058.0,1172.7 L1061.0,1172.7 L1064.1,1172.6 L1067.1,1172.6 L1070.1,1172.6 L1073.1,1172.6 L1076.1,1172.7 L1079.0,1172.7 L1082.0,1172.8 L1084.9,1172.9 L1087.9,1173.0 L1090.8,1173.1 L1093.8,1173.1 L1096.8,1173.2 L1099.8,1173.2 L1102.8,1173.2 L1105.8,1173.2 L1108.8,1173.1 L1111.9,1173.0 L1115.0,1172.8" stroke="#800000" stroke-width="5.4" />
<path class="c" d="M291.0,82.6 L294.0,82.8 L297.0,83.1 L300.0,83.3 L303.0,83.6 L306.0,83.9 L309.0,84.3 L311.9,84.6 L314.9,85.0 L317.9,85.3 L320.9,85.7 L323.8,86.1 L326.8,86.4 L329.8,86.8 L332.7,87.1 L335.7,87.5 L338.7,87.8 L341.7,88.1 L344.7,88.5 L347.7,88.8 L350.7,89.2 L353.7,89.5 L356.7,89.9 L359.7,90.3 L362.7,90.8 L365.7,91.2 L368.7,91.8 L371.6,92.3 L374.6,93.0 L377.5,93.6 L380.4,94.4 L383.3,95.2 L386.1,96.1 L389.0,97.0 L391.8,98.1 L394.6,99.2 L397.3,100.4 L400.0,101.6 L402.7,103.0 L405.3,104.4 L407.9,105.9 L410.4,107.4 L412.9,109.1 L415.4,110.8 L417.7,112.6 L420.1,114.5 L422.3,116.4 L424.5,118.4 L426.7,120.5 L428.7,122.7 L430.7,125.0 L432.6,127.3 L434.5,129.7 L436.4,132.1 L438.1,134.5 L439.9,137.0 L441.6,139.6 L443.3,142.1 L444.9,144.7 L446.5,147.2 L448.2,149.8 L449.7,152.4 L451.3,154.9 L452.9,157.5 L454.5,160.0 L456.1,162.5 L457.6,165.0 L459.2,167.5 L460.7,170.0 L462.2,172.5 L463.7,175.1 L465.2,177.6 L466.6,180.2 L468.0,182.8 L469.4,185.5 L470.8,188.2 L472.1,190.9 L473.4,193.7 L474.7,196.6 L475.9,199.4 L477.2,202.3 L478.5,205.1 L479.8,208.0 L481.1,210.8 L482.5,213.5 L483.9,216.2 L485.4,218.9 L487.0,221.4 L488.7,223.8 L490.5,226.2 L492.4,228.4 L494.4,230.4 L496.5,232.3 L498.8,234.0 L501.2,235.6 L503.8,237.0 L506.4,238.2 L509.1,239.3 L511.9,240.2 L514.7,241.0 L517.7,241.6 L520.6,242.0 L523.6,242.3 L526.6,242.5 L529.6,242.5 L532.7,242.6 L535.7,242.5 L538.8,242.5 L541.8,242.4 L544.9,242.4 L547.9,242.3 L550.9,242.3 L554.0,242.2 L557.0,242.2 L560.0,242.1 L563.0,242.1 L566.0,242.1 L569.0,242.0 L572.0,242.0 L575.0,241.9 L578.0,241.9 L581.0,241.9 L584.0,241.8 L587.0,241.8 L590.0,241.8 L593.0,241.8 L596.0,241.8 L599.0,241.7 L602.0,241.7 L605.0,241.7 L608.0,241.7 L611.0,241.7 L614.0,241.7 L617.0,241.7 L620.0,241.7 L623.0,241.7 L626.1,241.7 L629.1,241.8 L632.1,241.8 L635.1,241.8 L638.1,241.8 L641.1,241.9 L644.1,241.9 L647.1,242.0 L650.1,242.0 L653.1,242.1 L656.1,242.1 L659.1,242.2 L662.1,242.2 L665.1,242.3 L668.1,242.4 L671.1,242.5 L674.1,242.6 L677.1,242.7 L680.2,242.8 L683.2,242.9 L686.2,243.0 L689.2,243.1 L692.2,243.2 L695.2,243.4 L698.2,243.5 L701.2,243.6 L704.2,243.8 L707.2,243.9 L710.2,244.1 L713.2,244.3 L716.2,244.4 L719.2,244.6 L722.2,244.8 L725.2,245.0 L728.2,245.2 L731.2,245.4 L734.2,245.7 L737.1,245.9 L740.1,246.2 L743.1,246.4 L746.1,246.7 L749.1,247.1 L752.1,247.4 L755.0,247.8 L758.0,248.2 L761.0,248.6 L763.9,249.1 L766.9,249.6 L769.8,250.2 L772.8,250.8 L775.7,251.5 L778.7,252.2 L781.6,252.9 L784.5,253.7 L787.4,254.6 L790.3,255.5 L793.2,256.5 L796.1,257.5 L798.9,258.6 L801.7,259.8 L804.4,261.1 L807.0,262.5 L809.6,264.0 L812.1,265.6 L814.5,267.3 L816.8,269.1 L819.0,271.0 L821.1,273.0 L823.1,275.2 L825.0,277.4 L826.8,279.7 L828.5,282.1 L830.2,284.6 L831.8,287.1 L833.3,289.7 L834.7,292.4 L836.1,295.1 L837.4,297.8 L838.7,300.6 L840.0,303.4 L841.2,306.3 L842.3,309.2 L843.5,312.0 L844.6,314.9 L845.7,317.8 L846.8,320.6 L847.9,323.5 L848.9,326.3 L850.0,329.1 L851.0,331.9 L852.0,334.7 L853.0,337.5 L854.0,340.3 L855.0,343.1 L856.0,345.9 L857.0,348.8 L857.9,351.6 L858.9,354.4 L859.8,357.2 L860.7,360.1 L861.6,362.9 L862.5,365.7 L863.4,368.6 L864.3,371.4 L865.1,374.3 L866.0,377.2 L866.8,380.0 L867.6,382.9 L868.5,385.8 L869.3,388.7 L870.1,391.6 L870.8,394.5 L871.6,397.4 L872.4,400.3 L873.1,403.2 L873.9,406.1 L874.6,409.0 L875.4,411.9 L876.1,414.8 L876.8,417.8 L877.5,420.7 L878.2,423.6 L878.9,426.6 L879.6,429.5 L880.2,432.4 L880.9,435.4 L881.6,438.3 L882.2,441.2 L882.9,444.2 L883.5,447.1 L884.1,450.1 L884.8,453.0 L885.4,455.9 L886.0,458.9 L886.6,461.8 L887.2,464.8 L887.8,467.7 L888.4,470.7 L889.0,473.6 L889.5,476.6 L890.1,479.5 L890.7,482.5 L891.2,485.4 L891.8,488.4 L892.3,491.3 L892.8,494.3 L893.4,497.3 L893.9,500.2 L894.4,503.2 L894.9,506.1 L895.5,509.1 L896.0,512.1 L896.5,515.0 L897.0,518.0 L897.4,520.9 L897.9,523.9 L898.4,526.9 L898.9,529.8 L899.3,532.8 L899.8,535.8 L900.3,538.8 L900.7,541.7 L901.2,544.7 L901.6,547.7 L902.0,550.6 L902.5,553.6 L902.9,556.6 L903.3,559.6 L903.8,562.5 L904.2,565.5 L904.6,568.5 L905.0,571.5 L905.4,574.4 L905.8,577.4 L906.2,580.4 L906.6,583.4 L906.9,586.4 L907.3,589.3 L907.7,592.3 L908.1,595.3 L908.4,598.3 L908.8,601.3 L909.2,604.2 L909.5,607.2 L909.9,610.2 L910.2,613.2 L910.6,616.2 L910.9,619.2 L911.3,622.1 L911.6,625.1 L911.9,628.1 L912.3,631.1 L912.6,634.1 L912.9,637.1 L913.2,640.1 L913.5,643.0 L913.9,646.0 L914.2,649.0 L914.5,652.0 L914.8,655.0 L915.1,658.0 L915.4,661.0 L915.7,664.0 L916.0,667.0 L916.3,669.9 L916.5,672.9 L916.8,675.9 L917.1,678.9 L917.4,681.9 L917.7,684.9 L917.9,687.9 L918.2,690.9 L918.5,693.9 L918.7,696.9 L919.0,699.9 L919.3,702.9 L919.5,705.8 L919.8,708.8 L920.0,711.8 L920.2,714.8 L920.5,717.8 L920.7,720.8 L920.9,723.8 L921.1,726.8 L921.4,729.8 L921.6,732.8 L921.8,735.8 L922.0,738.8 L922.2,741.8 L922.4,744.8 L922.5,747.8 L922.7,750.8 L922.9,753.8 L923.1,756.8 L923.2,759.8 L923.4,762.8 L923.6,765.8 L923.8,768.8 L924.0,771.8 L924.1,774.8 L924.3,777.8 L924.5,780.8 L924.7,783.8 L924.9,786.8 L925.1,789.8 L925.3,792.8 L925.5,795.8 L925.7,798.8 L926.0,801.8 L926.2,804.8 L926.4,807.8 L926.7,810.8 L926.9,813.8 L927.2,816.7 L927.4,819.7 L927.7,822.7 L927.9,825.7 L928.2,828.7 L928.5,831.7 L928.7,834.7 L928.9,837.7 L929.2,840.7 L929.4,843.7 L929.7,846.7 L929.9,849.7 L930.1,852.7 L930.3,855.7 L930.5,858.7 L930.7,861.7 L930.9,864.7 L931.1,867.7 L931.3,870.8 L931.5,873.8 L931.7,876.8 L932.0,879.8 L932.3,882.7 L932.7,885.7 L933.1,888.7 L933.6,891.6 L934.2,894.5 L934.8,897.4 L935.6,900.2 L936.5,903.0 L937.4,905.8 L938.5,908.6 L939.7,911.3 L940.9,914.0 L942.2,916.7 L943.5,919.4 L944.9,922.1 L946.3,924.7 L947.8,927.4 L949.2,930.0 L950.7,932.7 L952.2,935.4 L953.6,938.0 L955.0,940.7 L956.4,943.4 L957.8,946.1 L959.2,948.8 L960.5,951.5 L961.8,954.2 L963.1,956.9 L964.4,959.6 L965.7,962.3 L967.0,965.1 L968.2,967.8 L969.5,970.5 L970.7,973.3 L971.9,976.0 L973.2,978.7 L974.4,981.5 L975.6,984.2 L976.8,987.0 L978.1,989.7 L979.3,992.4 L980.5,995.1 L981.7,997.9 L982.9,1000.6 L984.1,1003.3 L985.4,1006.1 L986.6,1008.8 L987.8,1011.6 L989.0,1014.3 L990.1,1017.0 L991.3,1019.8 L992.5,1022.5 L993.7,1025.3 L994.8,1028.0 L996.0,1030.8 L997.1,1033.6 L998.3,1036.3 L999.4,1039.1 L1000.5,1041.9 L1001.6,1044.7 L1002.7,1047.5 L1003.8,1050.3 L1004.9,1053.1 L1005.9,1055.9 L1007.0,1058.7 L1008.0,1061.5 L1009.1,1064.4 L1010.1,1067.2 L1011.1,1070.1 L1012.0,1073.0 L1013.0,1075.8 L1014.0,1078.7 L1014.9,1081.6 L1015.9,1084.5 L1016.8,1087.4 L1017.7,1090.3 L1018.7,1093.2 L1019.6,1096.1 L1020.6,1099.0 L1021.6,1101.8 L1022.5,1104.7 L1023.5,1107.6 L1024.6,1110.4 L1025.6,1113.3 L1026.7,1116.1 L1027.8,1118.9 L1028.9,1121.6 L1030.1,1124.4 L1031.3,1127.1 L1032.5,1129.8 L1033.8,1132.5 L1035.1,1135.2 L1036.5,1137.8 L1037.9,1140.4 L1039.4,1142.9 L1040.9,1145.4 L1042.5,1147.9 L1044.2,1150.4 L1045.9,1152.7 L1047.7,1155.1 L1049.6,1157.3 L1051.6,1159.4 L1053.7,1161.4 L1055.9,1163.2 L1058.3,1164.8 L1060.8,1166.1 L1063.4,1167.2 L1066.2,1168.1 L1069.1,1168.7 L1072.0,1169.2 L1075.1,1169.4 L1078.3,1169.5 L1081.4,1169.6 L1084.6,1169.5 L1087.8,1169.3 L1091.0,1169.1 L1094.2,1168.9 L1097.3,1168.7 L1100.4,1168.6 L1103.4,1168.5 L1106.4,1168.4 L1109.4,1168.5 L1112.2,1168.7 L1115.0,1169.0" stroke="#ff00ff" stroke-width="5.4" />
<path class="c" d="M287.6,83.2 L290.4,84.1 L293.1,85.1 L295.8,86.2 L298.6,87.3 L301.3,88.5 L303.9,89.7 L306.6,91.0 L309.2,92.3 L311.9,93.7 L314.5,95.1 L317.1,96.5 L319.7,98.0 L322.3,99.5 L324.9,101.1 L327.5,102.7 L330.1,104.2 L332.6,105.9 L335.2,107.5 L337.8,109.1 L340.3,110.8 L342.9,112.4 L345.4,114.1 L348.0,115.8 L350.6,117.4 L353.1,119.1 L355.7,120.8 L358.2,122.4 L360.8,124.0 L363.4,125.6 L366.0,127.2 L368.6,128.8 L371.2,130.3 L373.8,131.8 L376.4,133.3 L379.0,134.8 L381.7,136.2 L384.3,137.5 L387.0,138.8 L389.7,140.1 L392.4,141.3 L395.1,142.5 L397.8,143.6 L400.6,144.7 L403.4,145.7 L406.1,146.6 L408.9,147.5 L411.7,148.4 L414.6,149.2 L417.4,150.0 L420.3,150.7 L423.1,151.4 L426.0,152.1 L428.9,152.7 L431.8,153.2 L434.7,153.8 L437.6,154.3 L440.6,154.7 L443.5,155.2 L446.4,155.6 L449.4,155.9 L452.4,156.3 L455.3,156.6 L458.3,156.9 L461.3,157.1 L464.3,157.4 L467.3,157.6 L470.3,157.8 L473.3,158.0 L476.3,158.1 L479.4,158.3 L482.4,158.4 L485.4,158.5 L488.4,158.6 L491.5,158.7 L494.5,158.7 L497.5,158.8 L500.6,158.9 L503.6,158.9 L506.6,159.0 L509.7,159.0 L512.7,159.0 L515.8,159.1 L518.8,159.1 L521.8,159.1 L524.9,159.2 L527.9,159.2 L530.9,159.3 L533.9,159.3 L536.9,159.4 L540.0,159.4 L543.0,159.5 L546.0,159.5 L549.0,159.6 L552.0,159.6 L555.0,159.7 L558.0,159.7 L561.0,159.8 L564.0,159.9 L567.0,159.9 L570.0,160.0 L573.0,160.1 L576.0,160.2 L579.0,160.3 L582.0,160.3 L585.0,160.4 L588.0,160.5 L591.0,160.6 L594.0,160.7 L597.0,160.8 L600.0,160.9 L603.0,161.0 L606.0,161.1 L609.0,161.3 L612.0,161.4 L614.9,161.5 L617.9,161.6 L620.9,161.7 L623.9,161.9 L626.9,162.0 L629.9,162.2 L632.9,162.3 L635.8,162.4 L638.8,162.6 L641.8,162.7 L644.8,162.9 L647.8,163.1 L650.8,163.2 L653.8,163.4 L656.8,163.6 L659.8,163.8 L662.7,163.9 L665.7,164.1 L668.7,164.3 L671.7,164.5 L674.7,164.7 L677.7,164.9 L680.7,165.1 L683.7,165.3 L686.7,165.6 L689.7,165.8 L692.7,166.0 L695.7,166.2 L698.7,166.5 L701.7,166.7 L704.7,167.0 L707.7,167.3 L710.7,167.6 L713.7,167.9 L716.7,168.2 L719.7,168.6 L722.7,168.9 L725.7,169.3 L728.7,169.7 L731.7,170.2 L734.7,170.6 L737.6,171.1 L740.6,171.6 L743.6,172.1 L746.6,172.7 L749.5,173.3 L752.5,173.9 L755.5,174.6 L758.4,175.3 L761.4,176.0 L764.3,176.8 L767.2,177.7 L770.1,178.5 L773.0,179.5 L775.8,180.5 L778.6,181.5 L781.4,182.6 L784.1,183.8 L786.8,185.1 L789.4,186.4 L792.0,187.8 L794.6,189.3 L797.1,190.9 L799.5,192.5 L801.9,194.3 L804.2,196.1 L806.4,198.0 L808.6,200.0 L810.7,202.1 L812.8,204.2 L814.8,206.4 L816.7,208.7 L818.6,211.0 L820.4,213.4 L822.1,215.9 L823.8,218.4 L825.5,221.0 L827.0,223.6 L828.5,226.2 L830.0,228.9 L831.3,231.6 L832.7,234.3 L833.9,237.1 L835.1,239.9 L836.3,242.7 L837.3,245.5 L838.4,248.3 L839.3,251.1 L840.3,254.0 L841.1,256.9 L842.0,259.7 L842.8,262.6 L843.6,265.5 L844.3,268.4 L845.0,271.3 L845.8,274.2 L846.5,277.1 L847.1,280.0 L847.8,283.0 L848.5,285.9 L849.2,288.8 L849.9,291.7 L850.6,294.6 L851.3,297.6 L852.0,300.5 L852.7,303.4 L853.5,306.3 L854.3,309.2 L855.0,312.1 L855.8,315.0 L856.6,317.9 L857.4,320.8 L858.2,323.7 L859.0,326.6 L859.8,329.5 L860.6,332.4 L861.4,335.3 L862.2,338.2 L863.0,341.1 L863.8,344.0 L864.6,346.9 L865.4,349.8 L866.1,352.7 L866.9,355.6 L867.6,358.6 L868.3,361.5 L869.0,364.4 L869.7,367.3 L870.4,370.2 L871.0,373.2 L871.6,376.1 L872.2,379.0 L872.8,382.0 L873.4,384.9 L874.0,387.9 L874.6,390.8 L875.1,393.8 L875.6,396.7 L876.2,399.7 L876.7,402.6 L877.2,405.6 L877.7,408.5 L878.2,411.5 L878.7,414.4 L879.2,417.4 L879.6,420.4 L880.1,423.3 L880.6,426.3 L881.0,429.3 L881.5,432.2 L881.9,435.2 L882.4,438.2 L882.8,441.1 L883.3,444.1 L883.7,447.1 L884.2,450.0 L884.6,453.0 L885.1,456.0 L885.5,458.9 L885.9,461.9 L886.4,464.9 L886.8,467.8 L887.2,470.8 L887.6,473.8 L888.1,476.7 L888.5,479.7 L888.9,482.7 L889.3,485.7 L889.7,488.6 L890.1,491.6 L890.5,494.6 L890.9,497.6 L891.4,500.5 L891.8,503.5 L892.2,506.5 L892.6,509.5 L892.9,512.4 L893.3,515.4 L893.7,518.4 L894.1,521.4 L894.5,524.3 L894.9,527.3 L895.3,530.3 L895.6,533.3 L896.0,536.3 L896.4,539.2 L896.8,542.2 L897.1,545.2 L897.5,548.2 L897.9,551.2 L898.2,554.1 L898.6,557.1 L899.0,560.1 L899.3,563.1 L899.7,566.1 L900.0,569.0 L900.4,572.0 L900.7,575.0 L901.1,578.0 L901.4,581.0 L901.8,584.0 L902.1,586.9 L902.4,589.9 L902.8,592.9 L903.1,595.9 L903.4,598.9 L903.8,601.9 L904.1,604.9 L904.4,607.8 L904.7,610.8 L905.1,613.8 L905.4,616.8 L905.7,619.8 L906.0,622.8 L906.3,625.8 L906.6,628.7 L906.9,631.7 L907.2,634.7 L907.5,637.7 L907.8,640.7 L908.1,643.7 L908.4,646.7 L908.7,649.7 L909.0,652.6 L909.3,655.6 L909.6,658.6 L909.9,661.6 L910.2,664.6 L910.5,667.6 L910.8,670.6 L911.0,673.6 L911.3,676.6 L911.6,679.5 L911.9,682.5 L912.1,685.5 L912.4,688.5 L912.7,691.5 L912.9,694.5 L913.2,697.5 L913.5,700.5 L913.7,703.5 L914.0,706.5 L914.2,709.5 L914.5,712.4 L914.7,715.4 L915.0,718.4 L915.2,721.4 L915.5,724.4 L915.7,727.4 L916.0,730.4 L916.2,733.4 L916.5,736.4 L916.7,739.4 L916.9,742.4 L917.2,745.4 L917.4,748.3 L917.6,751.3 L917.9,754.3 L918.1,757.3 L918.3,760.3 L918.5,763.3 L918.8,766.3 L919.0,769.3 L919.2,772.3 L919.5,775.3 L919.7,778.3 L919.9,781.3 L920.1,784.3 L920.4,787.3 L920.6,790.2 L920.8,793.2 L921.1,796.2 L921.3,799.2 L921.5,802.2 L921.8,805.2 L922.0,808.2 L922.3,811.2 L922.5,814.2 L922.8,817.2 L923.0,820.2 L923.3,823.2 L923.5,826.2 L923.8,829.2 L924.1,832.2 L924.4,835.2 L924.6,838.2 L924.9,841.2 L925.3,844.1 L925.6,847.1 L925.9,850.1 L926.2,853.1 L926.6,856.1 L927.0,859.1 L927.4,862.0 L927.8,865.0 L928.2,868.0 L928.6,870.9 L929.1,873.9 L929.6,876.8 L930.1,879.8 L930.6,882.7 L931.1,885.7 L931.7,888.6 L932.3,891.6 L932.9,894.5 L933.5,897.4 L934.1,900.3 L934.8,903.2 L935.4,906.2 L936.1,909.1 L936.8,912.0 L937.5,914.9 L938.2,917.8 L938.9,920.7 L939.6,923.6 L940.3,926.5 L941.0,929.4 L941.8,932.4 L942.5,935.3 L943.2,938.2 L943.9,941.1 L944.6,944.0 L945.3,946.9 L946.0,949.8 L946.7,952.8 L947.3,955.7 L948.0,958.6 L948.6,961.6 L949.3,964.5 L949.9,967.5 L950.5,970.4 L951.1,973.4 L951.7,976.3 L952.3,979.3 L952.8,982.2 L953.4,985.2 L953.9,988.2 L954.5,991.1 L955.0,994.1 L955.6,997.1 L956.1,1000.0 L956.6,1003.0 L957.1,1006.0 L957.6,1008.9 L958.2,1011.9 L958.7,1014.9 L959.2,1017.8 L959.7,1020.8 L960.2,1023.8 L960.7,1026.7 L961.2,1029.7 L961.7,1032.6 L962.2,1035.6 L962.8,1038.5 L963.3,1041.5 L963.8,1044.4 L964.3,1047.4 L964.9,1050.3 L965.4,1053.2 L965.9,1056.2 L966.5,1059.1 L967.0,1062.0 L967.5,1065.0 L968.1,1067.9 L968.6,1070.9 L969.1,1073.8 L969.7,1076.8 L970.2,1079.7 L970.7,1082.7 L971.2,1085.7 L971.7,1088.7 L972.3,1091.6 L972.8,1094.6 L973.3,1097.6 L973.8,1100.6 L974.3,1103.7 L974.8,1106.7 L975.2,1109.7 L975.7,1112.8 L976.2,1115.8 L976.6,1118.9 L977.1,1122.0 L977.6,1125.0 L978.2,1128.1 L978.8,1131.1 L979.4,1134.1 L980.1,1137.0 L980.9,1139.9 L981.8,1142.8 L982.8,1145.6 L983.9,1148.3 L985.1,1150.9 L986.4,1153.4 L987.9,1155.8 L989.5,1158.1 L991.3,1160.2 L993.2,1162.2 L995.3,1163.9 L997.5,1165.4 L999.9,1166.7 L1002.4,1167.7 L1005.0,1168.6 L1007.8,1169.2 L1010.7,1169.6 L1013.6,1169.9 L1016.6,1170.1 L1019.7,1170.2 L1022.8,1170.3 L1025.9,1170.3 L1029.0,1170.2 L1032.1,1170.2 L1035.2,1170.2 L1038.2,1170.1 L1041.3,1170.1 L1044.3,1170.1 L1047.3,1170.1 L1050.4,1170.1 L1053.4,1170.1 L1056.4,1170.1 L1059.4,1170.1 L1062.4,1170.1 L1065.4,1170.1 L1068.4,1170.1 L1071.4,1170.1 L1074.4,1170.1 L1077.4,1170.1 L1080.4,1170.2 L1083.4,1170.2 L1086.4,1170.2 L1089.4,1170.2 L1092.4,1170.2 L1095.4,1170.2 L1098.4,1170.2 L1101.4,1170.2 L1104.4,1170.3 L1107.4,1170.3 L1110.4,1170.3 L1113.4,1170.3 L1116.4,1170.3 L1119.4,1170.3 L1122.4,1170.4 L1125.4,1170.4 L1128.4,1170.4 L1131.4,1170.4 L1134.4,1170.4 L1137.4,1170.5 L1140.4,1170.5 L1143.4,1170.5 L1146.4,1170.5 L1149.4,1170.5 L1152.4,1170.6 L1155.4,1170.6 L1158.4,1170.6 L1161.4,1170.6 L1164.4,1170.6 L1167.4,1170.6 L1170.4,1170.7 L1173.4,1170.7 L1176.4,1170.7 L1179.4,1170.7 L1182.4,1170.7 L1185.5,1170.8 L1188.5,1170.8 L1191.5,1170.8 L1194.5,1170.8 L1197.5,1170.8 L1200.5,1170.8 L1203.5,1170.9 L1206.5,1170.9 L1209.5,1170.9 L1212.5,1170.9 L1215.5,1170.9 L1218.5,1171.0 L1221.5,1171.0 L1224.5,1171.0 L1227.5,1171.0 L1230.5,1171.0 L1233.5,1171.0 L1236.5,1171.1 L1239.5,1171.1 L1242.5,1171.1 L1245.5,1171.1 L1248.5,1171.1 L1251.5,1171.1 L1254.5,1171.2 L1257.5,1171.2 L1260.5,1171.2 L1263.5,1171.2 L1266.5,1171.2 L1269.5,1171.3 L1272.5,1171.3 L1275.5,1171.3 L1278.5,1171.3 L1281.5,1171.3 L1284.5,1171.3 L1287.5,1171.4 L1290.5,1171.4 L1293.5,1171.4 L1296.5,1171.4 L1299.5,1171.4 L1302.6,1171.4 L1305.6,1171.5 L1308.6,1171.5 L1311.6,1171.5 L1314.6,1171.5 L1317.6,1171.5 L1320.6,1171.5 L1323.6,1171.6 L1326.6,1171.6 L1329.6,1171.6 L1332.6,1171.6 L1335.6,1171.6 L1338.6,1171.6 L1341.6,1171.7 L1344.6,1171.7 L1347.6,1171.7 L1350.6,1171.7 L1353.6,1171.7 L1356.6,1171.7 L1359.6,1171.8 L1362.6,1171.8 L1365.6,1171.8 L1368.6,1171.8 L1371.6,1171.8 L1374.6,1171.8 L1377.6,1171.9 L1380.6,1171.9 L1383.6,1171.9 L1386.6,1171.9 L1389.6,1171.9 L1392.6,1171.9 L1395.6,1172.0 L1398.6,1172.0 L1401.6,1172.0 L1404.6,1172.0 L1407.6,1172.0 L1410.6,1172.0 L1413.6,1172.1 L1416.6,1172.1 L1419.6,1172.1 L1422.7,1172.1 L1425.7,1172.1 L1428.7,1172.1 L1431.7,1172.1 L1434.7,1172.2 L1437.7,1172.2 L1440.7,1172.2 L1443.7,1172.2 L1446.7,1172.2 L1449.7,1172.2 L1452.7,1172.3 L1455.7,1172.3 L1458.7,1172.3 L1461.7,1172.3 L1464.7,1172.3 L1467.7,1172.3 L1470.7,1172.4 L1473.7,1172.4 L1476.7,1172.4 L1479.7,1172.4 L1482.7,1172.4 L1485.7,1172.4 L1488.7,1172.4 L1491.7,1172.5 L1494.7,1172.5 L1497.7,1172.5 L1500.7,1172.5 L1503.7,1172.5 L1506.7,1172.5 L1509.7,1172.6 L1512.7,1172.6 L1515.7,1172.6 L1518.7,1172.6 L1521.7,1172.6 L1524.7,1172.6 L1527.7,1172.6 L1530.7,1172.7 L1533.7,1172.7 L1536.7,1172.7 L1539.8,1172.7 L1542.8,1172.7 L1545.8,1172.7 L1548.8,1172.8 L1551.8,1172.8 L1554.8,1172.8 L1557.8,1172.8 L1560.8,1172.8 L1563.8,1172.8 L1566.8,1172.8 L1569.8,1172.9 L1572.8,1172.9 L1575.8,1172.9 L1578.8,1172.9 L1581.8,1172.9 L1584.8,1172.9 L1587.8,1173.0 L1590.8,1173.0 L1593.8,1173.0 L1596.8,1173.0 L1599.8,1173.0 L1602.8,1173.0 L1605.8,1173.0 L1608.8,1173.1 L1611.8,1173.1 L1614.8,1173.1 L1617.8,1173.1 L1620.8,1173.1 L1623.8,1173.1 L1626.8,1173.2 L1629.8,1173.2 L1632.8,1173.2 L1635.8,1173.2 L1638.8,1173.2 L1641.8,1173.2 L1644.8,1173.2 L1647.8,1173.3 L1650.8,1173.3 L1653.8,1173.3 L1656.8,1173.3 L1659.9,1173.3 L1662.9,1173.3 L1665.9,1173.4 L1668.9,1173.4 L1671.9,1173.4 L1674.9,1173.4 L1677.9,1173.4 L1680.9,1173.4 L1683.9,1173.4 L1686.9,1173.5 L1689.9,1173.5 L1692.9,1173.5 L1695.9,1173.5 L1698.9,1173.5 L1701.9,1173.5 L1704.9,1173.5 L1707.9,1173.6 L1710.9,1173.6 L1713.9,1173.6 L1716.9,1173.6 L1719.9,1173.6 L1722.9,1173.6 L1725.9,1173.7 L1728.9,1173.7 L1731.9,1173.7 L1734.9,1173.7 L1737.9,1173.7 L1740.9,1173.7 L1743.9,1173.7 L1746.9,1173.8 L1749.9,1173.8 L1752.9,1173.8 L1755.9,1173.8 L1758.9,1173.8 L1761.9,1173.8 L1764.9,1173.8 L1767.9,1173.9 L1770.9,1173.9 L1773.9,1173.9 L1777.0,1173.9 L1780.0,1173.9 L1783.0,1173.9 L1786.0,1174.0 L1789.0,1174.0 L1792.0,1174.0 L1795.0,1174.0 L1798.0,1174.0 L1801.0,1174.0 L1804.0,1174.0 L1807.0,1174.1 L1810.0,1174.1 L1813.0,1174.1 L1816.0,1174.1 L1819.0,1174.1 L1822.0,1174.1 L1825.0,1174.2 L1828.0,1174.2 L1831.0,1174.2 L1834.0,1174.2" stroke="#008080" stroke-width="5.4" />
<path class="c" d="M1118.0,1167.4 L1178.0,1167.4" stroke="#a040d0" stroke-width="2.0" />
<path class="c" d="M1223.0,1167.0 L1298.0,1167.0" stroke="#ff80ff" stroke-width="1.8" />
<path class="c" d="M1488.0,1169.6 L1525.0,1169.6" stroke="#a040d0" stroke-width="1.8" />
<path class="c" d="M1571.0,1169.9 L1602.0,1169.9" stroke="#ff80ff" stroke-width="1.8" />
<path class="c" d="M1161.0,1175.8 L1236.0,1175.8" stroke="#a8b890" stroke-width="2.2" />
<path class="c" d="M1236.0,1175.6 L1296.0,1175.6" stroke="#604010" stroke-width="2.0" />
<path class="c" d="M1296.0,1175.6 L1345.0,1175.6" stroke="#d07080" stroke-width="2.0" />
<path class="c" d="M1345.0,1175.6 L1399.0,1175.6" stroke="#800000" stroke-width="2.0" />
<path class="c" d="M1399.0,1175.6 L1484.0,1175.6" stroke="#405858" stroke-width="2.0" />
</g>
<line x1="208.1" y1="1178.3" x2="1834.3" y2="1178.3" stroke="#000" stroke-width="2.2"/>
<line x1="222.8" y1="1178.3" x2="222.8" y2="1193.3" stroke="#000" stroke-width="2.4"/>
<line x1="357.0" y1="1178.3" x2="357.0" y2="1187.3" stroke="#000" stroke-width="2.4"/>
<line x1="491.2" y1="1178.3" x2="491.2" y2="1193.3" stroke="#000" stroke-width="2.4"/>
<line x1="625.4" y1="1178.3" x2="625.4" y2="1187.3" stroke="#000" stroke-width="2.4"/>
<line x1="759.6" y1="1178.3" x2="759.6" y2="1193.3" stroke="#000" stroke-width="2.4"/>
<line x1="893.9" y1="1178.3" x2="893.9" y2="1187.3" stroke="#000" stroke-width="2.4"/>
<line x1="1028.1" y1="1178.3" x2="1028.1" y2="1193.3" stroke="#000" stroke-width="2.4"/>
<line x1="1162.3" y1="1178.3" x2="1162.3" y2="1187.3" stroke="#000" stroke-width="2.4"/>
<line x1="1296.5" y1="1178.3" x2="1296.5" y2="1193.3" stroke="#000" stroke-width="2.4"/>
<line x1="1430.7" y1="1178.3" x2="1430.7" y2="1187.3" stroke="#000" stroke-width="2.4"/>
<line x1="1564.9" y1="1178.3" x2="1564.9" y2="1193.3" stroke="#000" stroke-width="2.4"/>
<line x1="1699.1" y1="1178.3" x2="1699.1" y2="1187.3" stroke="#000" stroke-width="2.4"/>
<line x1="1833.3" y1="1178.3" x2="1833.3" y2="1193.3" stroke="#000" stroke-width="2.4"/>
<line x1="208.1" y1="1178.3" x2="222.8" y2="1178.3" stroke="#000" stroke-width="2.4"/>
<line x1="213.5" y1="1123.5" x2="222.8" y2="1123.5" stroke="#000" stroke-width="2.4"/>
<line x1="213.5" y1="1068.7" x2="222.8" y2="1068.7" stroke="#000" stroke-width="2.4"/>
<line x1="213.5" y1="1013.9" x2="222.8" y2="1013.9" stroke="#000" stroke-width="2.4"/>
<line x1="208.1" y1="959.1" x2="222.8" y2="959.1" stroke="#000" stroke-width="2.4"/>
<line x1="213.5" y1="904.2" x2="222.8" y2="904.2" stroke="#000" stroke-width="2.4"/>
<line x1="213.5" y1="849.4" x2="222.8" y2="849.4" stroke="#000" stroke-width="2.4"/>
<line x1="213.5" y1="794.6" x2="222.8" y2="794.6" stroke="#000" stroke-width="2.4"/>
<line x1="208.1" y1="739.8" x2="222.8" y2="739.8" stroke="#000" stroke-width="2.4"/>
<line x1="213.5" y1="685.0" x2="222.8" y2="685.0" stroke="#000" stroke-width="2.4"/>
<line x1="213.5" y1="630.2" x2="222.8" y2="630.2" stroke="#000" stroke-width="2.4"/>
<line x1="213.5" y1="575.4" x2="222.8" y2="575.4" stroke="#000" stroke-width="2.4"/>
<line x1="208.1" y1="520.6" x2="222.8" y2="520.6" stroke="#000" stroke-width="2.4"/>
<line x1="213.5" y1="465.8" x2="222.8" y2="465.8" stroke="#000" stroke-width="2.4"/>
<line x1="213.5" y1="411.0" x2="222.8" y2="411.0" stroke="#000" stroke-width="2.4"/>
<line x1="213.5" y1="356.1" x2="222.8" y2="356.1" stroke="#000" stroke-width="2.4"/>
<line x1="208.1" y1="301.3" x2="222.8" y2="301.3" stroke="#000" stroke-width="2.4"/>
<line x1="213.5" y1="246.5" x2="222.8" y2="246.5" stroke="#000" stroke-width="2.4"/>
<line x1="213.5" y1="191.7" x2="222.8" y2="191.7" stroke="#000" stroke-width="2.4"/>
<line x1="213.5" y1="136.9" x2="222.8" y2="136.9" stroke="#000" stroke-width="2.4"/>
<line x1="208.1" y1="82.1" x2="222.8" y2="82.1" stroke="#000" stroke-width="2.4"/>
<line x1="213.5" y1="27.6" x2="1834.8" y2="27.6" stroke="#000" stroke-width="3.0"/>
<line x1="1831.1" y1="29.1" x2="1831.1" y2="1177.3" stroke="#dcdcdc" stroke-width="1.8"/>
<line x1="1833.3" y1="26.1" x2="1833.3" y2="1193.3" stroke="#3c3c3c" stroke-width="2.8"/>
<line x1="222.8" y1="26.1" x2="222.8" y2="1193.3" stroke="#000" stroke-width="2.8"/>
<text transform="translate(225.8,1259.7) scale(0.762,1)" font-size="78" text-anchor="middle">0</text>
<text transform="translate(494.2,1259.7) scale(0.762,1)" font-size="78" text-anchor="middle">100</text>
<text transform="translate(762.6,1259.7) scale(0.762,1)" font-size="78" text-anchor="middle">200</text>
<text transform="translate(1031.1,1259.7) scale(0.762,1)" font-size="78" text-anchor="middle">300</text>
<text transform="translate(1299.5,1259.7) scale(0.762,1)" font-size="78" text-anchor="middle">400</text>
<text transform="translate(1567.9,1259.7) scale(0.762,1)" font-size="78" text-anchor="middle">500</text>
<text transform="translate(1836.3,1259.7) scale(0.762,1)" font-size="78" text-anchor="middle">600</text>
<text transform="translate(203.3,1203.9) scale(0.762,1)" font-size="78" text-anchor="end">0</text>
<text transform="translate(203.3,984.7) scale(0.762,1)" font-size="78" text-anchor="end">20</text>
<text transform="translate(203.3,765.4) scale(0.762,1)" font-size="78" text-anchor="end">40</text>
<text transform="translate(203.3,546.2) scale(0.762,1)" font-size="78" text-anchor="end">60</text>
<text transform="translate(203.3,326.9) scale(0.762,1)" font-size="78" text-anchor="end">80</text>
<text transform="translate(203.3,107.7) scale(0.762,1)" font-size="78" text-anchor="end">100</text>
<text x="1085.0" y="1347.0" font-size="62" text-anchor="middle">Temperature (°C)</text>
<text transform="translate(88.0,558.5) rotate(-90)" font-size="62" text-anchor="middle">Weight (%)</text>
<text x="40.5" y="159.0" font-size="82" letter-spacing="2.5">a)</text>
<text transform="translate(1596.5,181.5) scale(0.967,1)" font-size="58" style="fill:#008000">Me</text>
<text transform="translate(1596.5,246.7) scale(0.967,1)" font-size="58" style="fill:#0000ff">GA</text>
<text transform="translate(1596.5,311.9) scale(0.967,1)" font-size="58" style="fill:#800000">MA11</text>
<text transform="translate(1596.5,377.1) scale(0.967,1)" font-size="58" style="fill:#ff00ff">MA12</text>
<text transform="translate(1596.5,442.3) scale(0.967,1)" font-size="58" style="fill:#008080">MA21</text>
<!-- panel b -->
<clipPath id="clipb"><rect x="222.8" y="1443.5" width="1611.0" height="1158.1"/></clipPath>
<g clip-path="url(#clipb)">
<path class="c" d="M1162.4,2595.8 L1834.0,2595.8" stroke="#008000" stroke-width="4.9" />
<path class="c" d="M600.0,2594.5 C646.7,2594.7 693.3,2595.3 740.0,2595.0 C758.0,2594.9 776.0,2594.4 794.0,2593.2 C804.5,2592.5 815.0,2591.3 825.4,2589.4 C833.9,2587.9 842.2,2585.5 850.5,2583.1 C856.8,2581.3 863.1,2579.2 869.3,2576.9 C873.6,2575.3 877.6,2573.1 881.8,2571.4 C889.1,2568.4 896.8,2566.2 903.8,2562.6 C911.4,2558.7 919.2,2554.5 925.7,2549.0 C933.8,2542.3 940.8,2534.1 947.7,2526.0 C954.4,2518.1 960.8,2509.7 966.5,2501.0 C972.3,2492.0 977.4,2482.3 982.2,2472.7 C987.8,2461.4 993.1,2450.0 997.8,2438.3 C1003.6,2423.9 1008.7,2409.2 1013.5,2394.4 C1018.2,2379.9 1022.2,2365.2 1026.5,2350.5 C1031.1,2334.9 1035.6,2319.2 1040.0,2303.5 C1042.3,2295.4 1044.5,2287.2 1046.5,2279.0 C1049.7,2266.0 1052.5,2253.0 1055.5,2240.0 C1058.5,2226.7 1061.5,2213.3 1064.5,2200.0 C1067.6,2186.1 1070.7,2172.2 1073.6,2158.2 C1077.2,2141.0 1080.5,2123.8 1083.9,2106.6 C1087.3,2089.4 1091.0,2072.2 1094.2,2054.9 C1097.4,2037.7 1100.1,2020.5 1103.3,2003.3 C1105.7,1990.4 1108.0,1977.4 1111.0,1964.6 C1112.7,1957.2 1115.0,1949.8 1117.5,1942.6 C1118.9,1938.6 1120.4,1934.5 1122.6,1931.0 C1123.6,1929.3 1126.2,1926.0 1127.1,1926.8 C1129.0,1928.5 1130.3,1934.6 1131.0,1938.7 C1132.5,1947.2 1132.8,1956.0 1133.6,1964.6 C1134.8,1977.5 1135.9,1990.4 1136.8,2003.3 C1138.0,2020.5 1139.0,2037.7 1140.1,2054.9 C1141.2,2072.1 1142.1,2089.4 1143.3,2106.6 C1144.5,2123.8 1145.9,2141.0 1147.2,2158.2 C1148.3,2172.1 1149.4,2186.1 1150.4,2200.0 C1151.9,2220.9 1153.3,2241.8 1154.7,2262.7" stroke="#008000" stroke-width="4.9" />
<path class="c" d="M1153.9,2250.0 C1154.2,2254.2 1154.4,2258.5 1154.7,2262.7 C1155.4,2273.5 1156.1,2284.2 1156.8,2295.0 C1157.3,2303.3 1157.8,2311.7 1158.3,2320.0" stroke="#008000" stroke-width="3.8" />
<path class="c" d="M1156.9,2320.0 C1157.3,2330.0 1157.8,2340.0 1158.0,2350.0 C1158.4,2366.7 1158.6,2383.3 1158.8,2400.0 C1159.2,2426.7 1159.6,2453.3 1159.9,2480.0 C1160.2,2506.7 1160.5,2533.3 1160.8,2560.0 C1160.9,2572.0 1161.1,2584.0 1161.3,2596.0" stroke="#b4dcb4" stroke-width="3.0" />
<path class="c" d="M1158.3,2320.0 C1158.7,2330.0 1159.2,2340.0 1159.4,2350.0 C1159.8,2366.7 1160.0,2383.3 1160.2,2400.0 C1160.6,2426.7 1161.0,2453.3 1161.3,2480.0 C1161.6,2506.7 1161.9,2533.3 1162.2,2560.0 C1162.3,2572.0 1162.5,2584.0 1162.7,2596.0" stroke="#008000" stroke-width="2.4" />
<path class="c" d="M1155.6,2320.0 C1156.0,2330.0 1156.5,2340.0 1156.7,2350.0 C1157.1,2366.7 1157.3,2383.3 1157.5,2400.0 C1157.9,2426.7 1158.3,2453.3 1158.6,2480.0 C1158.9,2506.7 1159.2,2533.3 1159.5,2560.0 C1159.6,2572.0 1159.8,2584.0 1160.0,2596.0" stroke="#008000" stroke-width="2.4" stroke-dasharray="3 4"/>
<path class="c" d="M311.0,2596.0 C335.0,2595.5 360.1,2597.9 383.0,2594.6 C388.3,2593.8 392.7,2588.3 395.6,2583.7 C400.0,2576.8 402.4,2568.2 405.0,2560.2 C408.7,2548.9 410.7,2537.0 414.4,2525.7 C417.0,2517.7 419.5,2509.1 423.8,2502.2 C425.7,2499.1 430.2,2495.6 433.2,2495.9 C436.5,2496.2 440.6,2500.3 442.6,2503.8 C446.9,2511.3 448.8,2520.6 452.0,2528.9 C456.1,2539.4 459.7,2550.1 464.5,2560.2 C468.1,2567.8 472.0,2575.6 477.1,2582.2 C480.4,2586.5 484.6,2591.6 489.6,2593.1 C498.9,2595.9 509.8,2594.9 520.0,2595.0 C580.0,2595.7 640.0,2596.5 700.0,2595.6 C720.9,2595.3 741.9,2593.4 762.7,2591.5 C769.5,2590.9 776.1,2589.3 782.8,2588.2 C792.8,2586.5 803.1,2585.8 812.9,2583.1 C821.5,2580.7 830.2,2577.5 837.9,2573.1 C844.8,2569.2 851.4,2563.9 856.8,2558.1 C861.9,2552.7 865.5,2545.8 869.3,2539.3 C873.8,2531.6 877.9,2523.5 881.8,2515.4 C885.4,2508.0 888.9,2500.5 891.9,2492.9 C894.3,2486.7 896.4,2480.4 898.1,2474.0 C900.1,2466.1 901.4,2458.0 903.0,2450.0 C904.9,2440.7 906.7,2431.3 908.5,2422.0 C910.0,2414.7 912.0,2407.4 912.9,2400.0 C915.3,2380.6 916.6,2361.1 918.4,2341.6 C918.9,2336.2 919.4,2330.8 919.8,2325.4 C921.3,2304.5 922.4,2283.6 924.2,2262.7 C925.3,2249.1 926.4,2235.4 928.5,2222.0 C929.4,2216.0 932.1,2203.1 933.4,2204.4 C935.4,2206.3 936.9,2222.4 938.3,2231.4 C940.6,2247.0 942.4,2262.7 944.5,2278.4 C946.6,2294.1 948.6,2309.8 950.8,2325.4 C953.8,2346.3 956.9,2367.2 960.2,2388.1 C963.2,2406.9 965.9,2425.8 969.6,2444.5 C973.2,2462.4 976.8,2480.4 982.2,2497.8 C986.2,2510.7 991.3,2523.7 997.8,2535.4 C1001.7,2542.5 1007.3,2549.3 1013.5,2554.3 C1017.8,2557.7 1023.9,2558.8 1029.2,2560.5 C1034.3,2562.1 1039.6,2563.7 1044.9,2564.3 C1048.5,2564.7 1053.1,2565.6 1055.8,2563.7 C1059.4,2561.2 1061.3,2555.5 1063.7,2551.1 C1068.1,2542.9 1071.6,2534.1 1076.2,2526.0 C1081.0,2517.4 1087.5,2509.8 1091.9,2501.0 C1095.9,2493.1 1098.9,2484.5 1101.3,2475.9 C1105.1,2462.5 1107.6,2448.7 1110.7,2435.1 C1113.8,2421.5 1117.0,2408.0 1120.1,2394.4 C1122.7,2383.3 1124.6,2371.9 1127.9,2361.0 C1129.2,2356.8 1131.6,2349.9 1133.8,2349.3 C1135.6,2348.9 1138.9,2354.7 1140.0,2358.0 C1143.2,2367.6 1145.0,2378.0 1146.7,2388.1 C1149.9,2406.8 1152.0,2425.7 1154.6,2444.5 C1157.1,2462.5 1158.9,2480.6 1162.1,2498.5 C1163.9,2508.3 1165.5,2518.8 1169.4,2527.6 C1171.1,2531.4 1175.4,2534.3 1179.1,2536.4 C1183.5,2538.8 1189.5,2538.4 1193.7,2541.2 C1200.9,2546.0 1206.0,2554.1 1213.1,2559.2 C1218.9,2563.4 1225.8,2566.2 1232.5,2568.9 C1238.7,2571.4 1245.3,2573.7 1251.9,2574.7 C1261.4,2576.1 1271.3,2575.4 1281.0,2576.2 C1292.4,2577.2 1303.6,2579.4 1315.0,2580.1 C1324.7,2580.7 1334.4,2580.5 1344.1,2580.1 C1360.3,2579.5 1376.5,2578.1 1392.7,2577.1 C1416.9,2575.6 1441.2,2574.2 1465.4,2572.8 C1489.7,2571.4 1513.9,2570.2 1538.2,2568.9 C1562.5,2567.6 1586.7,2566.5 1611.0,2565.0 C1635.3,2563.5 1659.5,2561.0 1683.8,2559.7 C1693.5,2559.2 1703.4,2560.7 1713.0,2559.7 C1719.6,2559.0 1725.8,2555.9 1732.4,2554.8 C1738.8,2553.7 1745.4,2552.8 1751.8,2552.9 C1755.9,2553.0 1759.8,2555.2 1763.9,2555.3 C1769.5,2555.4 1775.2,2553.6 1780.9,2553.4 C1798.7,2552.9 1816.5,2553.4 1834.3,2553.4" stroke="#0000ff" stroke-width="4.9" />
<path class="c" d="M291.5,2590.0 C299.0,2586.9 306.3,2583.1 314.1,2580.6 C324.3,2577.3 335.7,2577.1 345.4,2572.8 C353.5,2569.2 360.2,2562.6 367.3,2557.1 C374.9,2551.1 383.2,2545.6 389.3,2538.3 C393.7,2533.0 395.8,2525.9 398.7,2519.5 C402.0,2512.3 404.3,2504.5 408.1,2497.5 C411.6,2490.9 416.1,2484.7 420.6,2478.7 C425.5,2472.2 430.7,2462.8 436.3,2459.9 C438.6,2458.7 442.9,2463.3 444.2,2466.2 C447.6,2473.7 448.9,2482.8 450.4,2491.2 C452.5,2502.6 452.7,2514.4 455.1,2525.7 C456.9,2534.3 459.1,2543.2 463.0,2550.8 C465.3,2555.3 469.6,2559.2 473.9,2561.8 C477.5,2563.9 482.7,2563.0 486.5,2564.9 C492.1,2567.7 496.7,2572.7 502.2,2575.9 C508.2,2579.5 514.4,2582.9 521.0,2585.3 C529.0,2588.2 537.5,2590.6 546.0,2591.6 C562.6,2593.5 579.5,2594.1 596.2,2594.1 C630.8,2594.2 665.5,2593.8 700.0,2591.9 C716.0,2591.0 732.3,2589.5 747.7,2585.7 C757.4,2583.3 766.6,2578.2 775.2,2573.1 C782.1,2569.0 788.5,2563.7 794.1,2558.1 C797.7,2554.5 800.9,2550.1 802.8,2545.5 C805.1,2540.1 805.8,2533.9 806.8,2528.0 C808.0,2520.5 808.6,2512.9 809.3,2505.4 C810.1,2497.0 810.5,2488.7 811.2,2480.3 C811.9,2472.8 812.1,2465.1 813.5,2457.7 C814.0,2455.1 815.1,2452.4 816.8,2450.4 C818.7,2448.2 821.8,2447.1 824.1,2445.2 C827.4,2442.4 831.9,2440.2 833.6,2436.4 C837.9,2426.8 839.2,2415.5 842.3,2405.1 C844.8,2396.7 848.4,2388.5 850.5,2380.0 C853.6,2367.4 855.3,2354.4 857.8,2341.6 C861.4,2323.3 865.2,2304.9 868.9,2286.6 C872.6,2268.2 876.2,2249.9 879.9,2231.5 C882.6,2217.7 885.4,2204.0 888.1,2190.2 C889.9,2181.0 892.2,2171.9 893.6,2162.6 C895.7,2148.5 897.0,2134.2 898.5,2120.0 C899.9,2106.7 901.4,2093.4 902.5,2080.0 C904.7,2053.4 906.6,2026.7 908.5,2000.0 C910.4,1973.3 912.2,1946.7 914.0,1920.0 C915.7,1893.3 917.6,1866.7 919.0,1840.0 C920.4,1813.3 921.4,1786.7 922.5,1760.0 C923.6,1732.2 924.6,1704.4 925.7,1676.6" stroke="#800000" stroke-width="4.9" />
<path class="c" d="M926.5,1676.6 L930.0,1720.0 L930.6,1840.0 L932.0,2090.0 L936.0,2300.0 L939.8,2416.3" stroke="#800000" stroke-width="2.6" stroke-dasharray="5 3"/>
<path class="c" d="M939.8,2416.3 C945.6,2402.7 951.0,2389.0 957.1,2375.6 C961.7,2365.6 966.8,2355.7 972.0,2346.0 C973.5,2343.1 975.4,2338.2 977.4,2337.9 C979.3,2337.6 982.5,2341.6 983.7,2344.2 C986.7,2351.0 987.4,2359.0 990.0,2366.2 C992.7,2373.7 997.6,2380.5 999.4,2388.1 C1001.8,2398.2 1001.7,2409.0 1002.5,2419.5 C1003.8,2435.2 1004.6,2450.8 1005.7,2466.5 C1006.7,2482.2 1007.4,2497.9 1008.8,2513.5 C1010.0,2527.1 1011.3,2540.8 1013.5,2554.3 C1015.0,2563.8 1016.2,2573.9 1019.8,2582.5 C1021.4,2586.4 1025.4,2590.2 1029.2,2591.9 C1033.8,2594.0 1039.7,2593.3 1045.0,2594.0" stroke="#800000" stroke-width="4.9" />
<path class="c" d="M291.5,2586.9 C299.0,2587.4 306.6,2588.6 314.1,2588.4 C324.5,2588.1 335.0,2586.7 345.4,2585.3 C353.8,2584.1 362.3,2582.7 370.5,2580.6 C376.9,2579.0 384.0,2577.8 389.3,2574.3 C394.4,2571.0 398.3,2565.4 401.8,2560.2 C405.6,2554.4 407.3,2547.2 411.2,2541.4 C415.7,2534.7 422.1,2529.2 426.9,2522.6 C433.6,2513.5 439.8,2504.0 445.7,2494.4 C451.3,2485.2 455.3,2474.9 461.4,2466.2 C463.7,2462.9 467.5,2458.6 470.8,2458.3 C473.8,2458.0 478.4,2461.5 480.2,2464.6 C484.7,2472.4 487.0,2482.2 489.6,2491.2 C492.8,2502.5 495.3,2514.1 497.5,2525.7 C500.0,2539.2 499.8,2553.6 503.7,2566.5 C505.5,2572.5 510.7,2577.3 514.7,2582.2 C517.5,2585.6 520.2,2590.0 524.1,2591.6 C530.6,2594.2 538.6,2594.5 546.0,2594.7 C580.6,2595.6 615.3,2595.0 650.0,2594.7 C666.7,2594.6 683.4,2594.3 700.0,2593.4 C715.7,2592.6 731.3,2590.9 747.0,2589.5 C754.7,2588.8 762.8,2589.0 770.2,2586.9 C776.4,2585.2 782.5,2581.8 787.8,2578.1 C792.5,2574.7 796.8,2570.3 800.3,2565.6 C803.9,2560.7 806.5,2554.9 809.1,2549.3 C811.9,2543.2 814.1,2536.8 816.6,2530.5 C819.1,2524.2 821.9,2518.1 824.1,2511.7 C826.9,2503.4 829.4,2495.0 831.7,2486.6 C834.0,2478.3 835.9,2469.9 838.0,2461.5 C840.2,2453.1 842.3,2444.8 844.6,2436.4 C846.8,2428.1 849.3,2419.8 851.5,2411.4 C854.3,2401.0 857.1,2390.5 859.5,2380.0 C862.4,2367.3 865.1,2354.4 867.5,2341.6 C870.9,2323.3 873.9,2304.9 877.1,2286.6 C880.3,2268.2 883.7,2249.9 886.8,2231.5 C889.2,2217.7 891.5,2204.0 893.6,2190.2 C895.6,2176.5 897.5,2162.7 899.1,2148.9 C900.5,2137.4 901.6,2125.9 902.6,2114.4 C903.6,2102.9 904.5,2091.5 905.3,2080.0 C906.7,2059.0 907.9,2038.0 909.0,2017.0 C910.5,1988.3 911.9,1959.7 913.2,1931.0 C914.2,1908.0 915.2,1885.0 916.0,1862.0 C916.7,1841.3 917.1,1820.7 917.6,1800.0" stroke="#ff00ff" stroke-width="4.9" />
<path class="c" d="M917.6,1800.0 L918.4,1776.0 L920.6,1663.7 L923.2,1577.0 L925.3,1515.0" stroke="#ff00ff" stroke-width="3.6" stroke-dasharray="7 2"/>
<path class="c" d="M926.0,1490.5 L926.0,1522.0" stroke="#ff00ff" stroke-width="6.6" />
<path class="c" d="M931.3,1840.0 L932.6,2090.0 L933.2,2200.0 L935.8,2494.7" stroke="#ffb8ff" stroke-width="3.0" />
<path class="c" d="M926.8,1490.8 L931.5,1663.7 L932.9,1840.0 L934.2,2090.0 L934.8,2200.0 L937.4,2494.7" stroke="#ff00ff" stroke-width="2.3" />
<path class="c" d="M937.6,2494.7 C938.5,2495.2 939.8,2497.1 940.4,2496.3 C947.3,2487.7 953.7,2476.5 960.2,2466.5 C967.6,2455.1 974.5,2443.2 982.2,2432.0 C988.1,2423.4 994.1,2414.7 1001.0,2406.9 C1005.1,2402.3 1010.4,2395.6 1015.1,2395.0 C1018.6,2394.6 1023.6,2399.9 1025.5,2403.8 C1030.0,2413.2 1031.8,2424.6 1034.2,2435.1 C1037.8,2450.7 1040.6,2466.5 1043.4,2482.2 C1046.7,2501.0 1049.1,2519.9 1052.6,2538.6 C1054.8,2550.2 1056.9,2561.9 1060.4,2573.1 C1062.1,2578.6 1064.8,2584.2 1068.2,2588.7 C1069.8,2590.8 1072.6,2592.3 1075.2,2593.0 C1079.9,2594.4 1085.1,2594.3 1090.0,2595.0" stroke="#ff00ff" stroke-width="4.9" />
<path class="c" d="M288.3,2575.3 C290.4,2572.4 292.9,2565.8 294.6,2566.5 C297.1,2567.5 298.9,2581.3 300.9,2580.6 C303.7,2579.6 305.4,2567.3 309.0,2561.5 C312.3,2556.3 316.6,2551.2 321.5,2547.5 C326.3,2543.9 332.3,2540.5 338.0,2539.4 C342.3,2538.6 347.6,2539.9 351.7,2541.8 C357.3,2544.3 362.2,2548.8 367.3,2552.5 C373.7,2557.2 379.5,2562.7 386.2,2567.0 C393.1,2571.4 400.5,2575.4 408.1,2578.5 C416.2,2581.8 424.7,2584.1 433.2,2586.0 C441.4,2587.9 449.9,2588.8 458.3,2589.8 C468.7,2591.0 479.1,2592.1 489.6,2592.6 C504.2,2593.2 518.9,2593.0 533.5,2593.1 C554.4,2593.2 575.3,2593.4 596.2,2593.1 C617.1,2592.8 638.0,2592.4 658.9,2591.5 C672.6,2590.9 686.4,2590.6 700.0,2588.8 C712.7,2587.1 725.2,2584.2 737.6,2581.0 C746.1,2578.8 754.7,2576.0 762.7,2572.4 C769.3,2569.4 775.6,2565.3 781.5,2561.0 C786.5,2557.3 791.0,2552.9 795.3,2548.4 C798.6,2544.9 801.7,2541.1 804.1,2537.0 C807.6,2531.0 810.8,2524.5 812.9,2517.9 C815.4,2509.8 816.4,2501.3 817.9,2492.9 C819.7,2482.5 821.1,2471.9 822.9,2461.5 C824.4,2453.1 825.9,2444.7 827.9,2436.4 C830.4,2425.9 833.6,2415.5 836.5,2405.0 C838.8,2396.7 841.6,2388.4 843.5,2380.0 C846.4,2367.3 848.5,2354.4 851.0,2341.6 C854.6,2323.3 858.3,2304.9 862.0,2286.6 C865.7,2268.2 869.3,2249.9 873.0,2231.5 C875.7,2217.7 878.7,2204.0 881.2,2190.2 C883.7,2176.5 886.1,2162.7 888.1,2148.9 C889.8,2137.4 891.1,2125.9 892.3,2114.4 C893.4,2103.0 894.2,2091.5 895.0,2080.0 C896.4,2059.8 897.4,2039.7 898.9,2019.5 C900.8,1993.4 903.4,1967.3 905.2,1941.1 C907.0,1915.0 908.2,1888.8 909.9,1862.7 C911.2,1841.8 912.8,1820.9 914.2,1800.0 C915.6,1780.0 916.9,1760.0 918.2,1740.0 C919.1,1726.7 920.0,1713.3 920.9,1700.0" stroke="#008080" stroke-width="4.9" />
<path class="c" d="M920.9,1700.0 L925.4,1702.0 L926.6,1840.0 L927.8,2090.0 L930.0,2207.5 L931.5,2300.0 L933.6,2322.3" stroke="#008080" stroke-width="3.0" stroke-dasharray="10 2.5"/>
<path class="c" d="M933.6,2322.3 C935.7,2311.5 937.3,2300.6 940.0,2290.0 C943.1,2277.6 946.3,2265.2 950.8,2253.3 C954.0,2244.9 958.3,2236.6 963.0,2229.0 C965.1,2225.7 968.3,2221.5 971.2,2220.4 C972.7,2219.8 975.1,2222.3 976.0,2224.0 C977.7,2227.0 978.5,2230.9 979.0,2234.5 C981.0,2249.0 982.3,2263.7 983.3,2278.4 C984.7,2299.3 985.6,2320.2 986.4,2341.1 C987.4,2367.2 988.1,2393.4 988.9,2419.5 C989.7,2445.6 990.0,2471.7 991.1,2497.8 C991.8,2513.5 992.6,2529.3 994.3,2544.9 C995.4,2555.4 996.6,2566.2 999.5,2576.2 C1001.0,2581.3 1004.0,2586.5 1007.5,2590.3 C1009.7,2592.6 1013.3,2594.1 1016.6,2594.4 C1030.8,2595.7 1045.5,2594.8 1060.0,2595.0" stroke="#008080" stroke-width="4.9" />
<path class="c" d="M1060.0,2594.9 L1834.0,2594.9" stroke="#008080" stroke-width="4.9" />
</g>
<line x1="208.1" y1="2595.6" x2="1834.3" y2="2595.6" stroke="#000" stroke-width="2.2"/>
<line x1="222.8" y1="2595.6" x2="222.8" y2="2610.6" stroke="#000" stroke-width="2.4"/>
<line x1="357.0" y1="2595.6" x2="357.0" y2="2604.6" stroke="#000" stroke-width="2.4"/>
<line x1="491.2" y1="2595.6" x2="491.2" y2="2610.6" stroke="#000" stroke-width="2.4"/>
<line x1="625.4" y1="2595.6" x2="625.4" y2="2604.6" stroke="#000" stroke-width="2.4"/>
<line x1="759.6" y1="2595.6" x2="759.6" y2="2610.6" stroke="#000" stroke-width="2.4"/>
<line x1="893.9" y1="2595.6" x2="893.9" y2="2604.6" stroke="#000" stroke-width="2.4"/>
<line x1="1028.1" y1="2595.6" x2="1028.1" y2="2610.6" stroke="#000" stroke-width="2.4"/>
<line x1="1162.3" y1="2595.6" x2="1162.3" y2="2604.6" stroke="#000" stroke-width="2.4"/>
<line x1="1296.5" y1="2595.6" x2="1296.5" y2="2610.6" stroke="#000" stroke-width="2.4"/>
<line x1="1430.7" y1="2595.6" x2="1430.7" y2="2604.6" stroke="#000" stroke-width="2.4"/>
<line x1="1564.9" y1="2595.6" x2="1564.9" y2="2610.6" stroke="#000" stroke-width="2.4"/>
<line x1="1699.1" y1="2595.6" x2="1699.1" y2="2604.6" stroke="#000" stroke-width="2.4"/>
<line x1="1833.3" y1="2595.6" x2="1833.3" y2="2610.6" stroke="#000" stroke-width="2.4"/>
<line x1="208.1" y1="2595.6" x2="222.8" y2="2595.6" stroke="#000" stroke-width="2.4"/>
<line x1="213.5" y1="2451.6" x2="222.8" y2="2451.6" stroke="#000" stroke-width="2.4"/>
<line x1="208.1" y1="2307.6" x2="222.8" y2="2307.6" stroke="#000" stroke-width="2.4"/>
<line x1="213.5" y1="2163.6" x2="222.8" y2="2163.6" stroke="#000" stroke-width="2.4"/>
<line x1="208.1" y1="2019.5" x2="222.8" y2="2019.5" stroke="#000" stroke-width="2.4"/>
<line x1="213.5" y1="1875.5" x2="222.8" y2="1875.5" stroke="#000" stroke-width="2.4"/>
<line x1="208.1" y1="1731.5" x2="222.8" y2="1731.5" stroke="#000" stroke-width="2.4"/>
<line x1="213.5" y1="1587.5" x2="222.8" y2="1587.5" stroke="#000" stroke-width="2.4"/>
<line x1="208.1" y1="1443.5" x2="222.8" y2="1443.5" stroke="#000" stroke-width="2.4"/>
<line x1="208.1" y1="1445.6" x2="1834.7" y2="1445.6" stroke="#b4b4b4" stroke-width="1.8"/>
<line x1="208.1" y1="1443.1" x2="1834.7" y2="1443.1" stroke="#555" stroke-width="3.2"/>
<line x1="1835.6" y1="1445.0" x2="1835.6" y2="2595.6" stroke="#dcdcdc" stroke-width="1.8"/>
<line x1="1833.3" y1="1444.5" x2="1833.3" y2="2610.6" stroke="#222" stroke-width="2.8"/>
<line x1="222.8" y1="1442.0" x2="222.8" y2="2610.6" stroke="#000" stroke-width="2.8"/>
<text transform="translate(225.8,2677.0) scale(0.762,1)" font-size="78" text-anchor="middle">0</text>
<text transform="translate(494.2,2677.0) scale(0.762,1)" font-size="78" text-anchor="middle">100</text>
<text transform="translate(762.6,2677.0) scale(0.762,1)" font-size="78" text-anchor="middle">200</text>
<text transform="translate(1031.1,2677.0) scale(0.762,1)" font-size="78" text-anchor="middle">300</text>
<text transform="translate(1299.5,2677.0) scale(0.762,1)" font-size="78" text-anchor="middle">400</text>
<text transform="translate(1567.9,2677.0) scale(0.762,1)" font-size="78" text-anchor="middle">500</text>
<text transform="translate(1836.3,2677.0) scale(0.762,1)" font-size="78" text-anchor="middle">600</text>
<text transform="translate(203.3,2621.2) scale(0.762,1)" font-size="78" text-anchor="end">0</text>
<text transform="translate(203.3,2333.2) scale(0.762,1)" font-size="78" text-anchor="end">10</text>
<text transform="translate(203.3,2045.1) scale(0.762,1)" font-size="78" text-anchor="end">20</text>
<text transform="translate(203.3,1757.1) scale(0.762,1)" font-size="78" text-anchor="end">30</text>
<text transform="translate(203.3,1469.1) scale(0.762,1)" font-size="78" text-anchor="end">40</text>
<text x="1085.0" y="2752.3" font-size="62" text-anchor="middle">Temperature (°C)</text>
<text transform="translate(88.0,2022.0) rotate(-90)" font-size="62" text-anchor="middle">Deriv. Weight (%/min)</text>
<text x="60.0" y="1565.5" font-size="78" letter-spacing="5.5">b)</text>
<text transform="translate(1577.5,1570.3) scale(0.967,1)" font-size="58" style="fill:#008000">Me</text>
<text transform="translate(1577.5,1635.4) scale(0.967,1)" font-size="58" style="fill:#0000ff">GA</text>
<text transform="translate(1577.5,1700.5) scale(0.967,1)" font-size="58" style="fill:#800000">MA11</text>
<text transform="translate(1577.5,1765.6) scale(0.967,1)" font-size="58" style="fill:#ff00ff">MA12</text>
<text transform="translate(1577.5,1830.7) scale(0.967,1)" font-size="58" style="fill:#008080">MA21</text>
</svg></body></html>
